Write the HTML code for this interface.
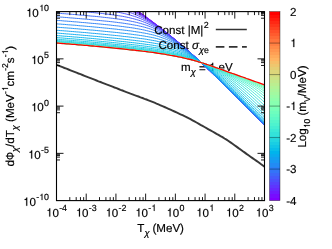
<!DOCTYPE html>
<html><head><meta charset="utf-8"><title>chart</title><style>html,body{margin:0;padding:0;background:#fff}body{width:332px;height:249px;overflow:hidden}</style></head><body>
<svg width="332" height="249" viewBox="0 0 332 249" style="display:block;font-family:'Liberation Sans',sans-serif" text-rendering="geometricPrecision">
<defs><clipPath id="ax"><rect x="56.5" y="11.6" width="208.0" height="189.0"/></clipPath><filter id="nf" filterUnits="userSpaceOnUse" x="0" y="0" width="332" height="249"><feOffset dx="0" dy="0"/></filter></defs>
<rect width="332" height="249" fill="#fff"/>
<g filter="url(#nf)" fill="#000" stroke="#000" stroke-width="0.18" style="white-space:pre">
<text x="181.00" y="71.00" font-size="11.6">m</text>
<text x="190.66" y="74.80" font-size="9.2" font-style="italic">χ</text>
<text x="198.91" y="72.00" font-size="11.6">=</text>
<path transform="translate(208.91 71.00) scale(0.00566 -0.00566)" d="M585 0V1040H290V1170Q480 1178 560 1270Q610 1340 625 1456H760V0Z" stroke-width="32"/>
<text x="218.58" y="71.00" font-size="11.6">eV</text>
</g>
<g clip-path="url(#ax)" fill="none" stroke-width="0.95">
<path d="M56.5 -16.8 L58.5 -16.6 L60.5 -16.4 L62.5 -16.2 L64.5 -16.0 L66.5 -15.8 L68.5 -15.6 L70.5 -15.4 L72.5 -15.1 L74.5 -14.9 L76.5 -14.6 L78.5 -14.3 L80.5 -14.0 L82.5 -13.7 L84.5 -13.3 L86.5 -13.0 L88.5 -12.5 L90.5 -12.1 L92.5 -11.6 L94.5 -11.1 L96.5 -10.6 L98.5 -10.0 L100.5 -9.3 L102.5 -8.6 L104.5 -7.9 L106.5 -7.1 L108.5 -6.2 L110.5 -5.4 L112.5 -4.4 L114.5 -3.4 L116.5 -2.4 L118.5 -1.3 L120.5 -0.2 L122.5 1.0 L124.5 2.2 L126.5 3.5 L128.5 4.7 L130.5 6.0 L132.5 7.4 L134.5 8.7 L136.5 10.1 L138.5 11.5 L140.5 12.9 L142.5 14.3 L144.5 15.8 L146.5 17.2 L148.5 18.7 L150.5 20.2 L152.5 21.7 L154.5 23.2 L156.5 24.7 L158.5 26.3 L160.5 27.8 L162.5 29.4 L164.5 31.0 L166.5 32.6 L168.5 34.2 L170.5 35.8 L172.5 37.4 L174.5 39.1 L176.5 40.7 L178.5 42.4 L180.5 44.1 L182.5 45.8 L184.5 47.5 L186.5 49.2 L188.5 51.0 L190.5 52.7 L192.5 54.5 L194.5 56.3 L196.5 58.2 L198.5 60.0 L200.5 61.9 L202.5 63.8 L204.5 65.7 L206.5 67.7 L208.5 69.6 L210.5 71.6 L212.5 73.6 L214.5 75.5 L216.5 77.5 L218.5 79.5 L220.5 81.5 L222.5 83.5 L224.5 85.5 L226.5 87.5 L228.5 89.4 L230.5 91.4 L232.5 93.4 L234.5 95.4 L236.5 97.4 L238.5 99.3 L240.5 101.3 L242.5 103.3 L244.5 105.3 L246.5 107.3 L248.5 109.2 L250.5 111.2 L252.5 113.2 L254.5 115.2 L256.5 117.2 L258.5 119.1 L260.5 121.1 L262.5 123.1 L264.5 125.1" stroke="#8000ff"/>
<path d="M56.5 -13.0 L58.5 -12.9 L60.5 -12.7 L62.5 -12.5 L64.5 -12.3 L66.5 -12.2 L68.5 -12.0 L70.5 -11.8 L72.5 -11.5 L74.5 -11.3 L76.5 -11.1 L78.5 -10.8 L80.5 -10.6 L82.5 -10.3 L84.5 -10.0 L86.5 -9.7 L88.5 -9.4 L90.5 -9.0 L92.5 -8.6 L94.5 -8.2 L96.5 -7.8 L98.5 -7.3 L100.5 -6.8 L102.5 -6.2 L104.5 -5.6 L106.5 -5.0 L108.5 -4.3 L110.5 -3.5 L112.5 -2.7 L114.5 -1.9 L116.5 -1.0 L118.5 0.0 L120.5 1.0 L122.5 2.1 L124.5 3.2 L126.5 4.3 L128.5 5.5 L130.5 6.7 L132.5 7.9 L134.5 9.2 L136.5 10.5 L138.5 11.9 L140.5 13.2 L142.5 14.6 L144.5 16.0 L146.5 17.4 L148.5 18.9 L150.5 20.3 L152.5 21.8 L154.5 23.3 L156.5 24.8 L158.5 26.3 L160.5 27.9 L162.5 29.5 L164.5 31.0 L166.5 32.6 L168.5 34.2 L170.5 35.8 L172.5 37.5 L174.5 39.1 L176.5 40.7 L178.5 42.4 L180.5 44.1 L182.5 45.8 L184.5 47.5 L186.5 49.2 L188.5 51.0 L190.5 52.7 L192.5 54.5 L194.5 56.3 L196.5 58.2 L198.5 60.0 L200.5 61.9 L202.5 63.8 L204.5 65.7 L206.5 67.7 L208.5 69.6 L210.5 71.6 L212.5 73.6 L214.5 75.5 L216.5 77.5 L218.5 79.5 L220.5 81.5 L222.5 83.5 L224.5 85.5 L226.5 87.5 L228.5 89.4 L230.5 91.4 L232.5 93.4 L234.5 95.4 L236.5 97.4 L238.5 99.3 L240.5 101.3 L242.5 103.3 L244.5 105.3 L246.5 107.3 L248.5 109.2 L250.5 111.2 L252.5 113.2 L254.5 115.2 L256.5 117.2 L258.5 119.1 L260.5 121.1 L262.5 123.1 L264.5 125.1" stroke="#770dff"/>
<path d="M56.5 -9.3 L58.5 -9.1 L60.5 -9.0 L62.5 -8.8 L64.5 -8.6 L66.5 -8.5 L68.5 -8.3 L70.5 -8.1 L72.5 -7.9 L74.5 -7.7 L76.5 -7.5 L78.5 -7.3 L80.5 -7.0 L82.5 -6.8 L84.5 -6.6 L86.5 -6.3 L88.5 -6.0 L90.5 -5.7 L92.5 -5.4 L94.5 -5.1 L96.5 -4.7 L98.5 -4.3 L100.5 -3.9 L102.5 -3.4 L104.5 -2.9 L106.5 -2.4 L108.5 -1.8 L110.5 -1.2 L112.5 -0.6 L114.5 0.1 L116.5 0.9 L118.5 1.7 L120.5 2.6 L122.5 3.5 L124.5 4.4 L126.5 5.4 L128.5 6.5 L130.5 7.6 L132.5 8.8 L134.5 9.9 L136.5 11.2 L138.5 12.4 L140.5 13.7 L142.5 15.0 L144.5 16.4 L146.5 17.8 L148.5 19.1 L150.5 20.6 L152.5 22.0 L154.5 23.5 L156.5 25.0 L158.5 26.5 L160.5 28.0 L162.5 29.5 L164.5 31.1 L166.5 32.7 L168.5 34.3 L170.5 35.9 L172.5 37.5 L174.5 39.1 L176.5 40.8 L178.5 42.4 L180.5 44.1 L182.5 45.8 L184.5 47.5 L186.5 49.2 L188.5 51.0 L190.5 52.7 L192.5 54.5 L194.5 56.4 L196.5 58.2 L198.5 60.0 L200.5 61.9 L202.5 63.8 L204.5 65.7 L206.5 67.7 L208.5 69.6 L210.5 71.6 L212.5 73.6 L214.5 75.5 L216.5 77.5 L218.5 79.5 L220.5 81.5 L222.5 83.5 L224.5 85.5 L226.5 87.5 L228.5 89.4 L230.5 91.4 L232.5 93.4 L234.5 95.4 L236.5 97.4 L238.5 99.3 L240.5 101.3 L242.5 103.3 L244.5 105.3 L246.5 107.3 L248.5 109.2 L250.5 111.2 L252.5 113.2 L254.5 115.2 L256.5 117.2 L258.5 119.1 L260.5 121.1 L262.5 123.1 L264.5 125.1" stroke="#6e1bff"/>
<path d="M56.5 -5.6 L58.5 -5.4 L60.5 -5.2 L62.5 -5.1 L64.5 -4.9 L66.5 -4.7 L68.5 -4.6 L70.5 -4.4 L72.5 -4.2 L74.5 -4.0 L76.5 -3.8 L78.5 -3.6 L80.5 -3.4 L82.5 -3.2 L84.5 -3.0 L86.5 -2.7 L88.5 -2.5 L90.5 -2.2 L92.5 -2.0 L94.5 -1.7 L96.5 -1.4 L98.5 -1.1 L100.5 -0.7 L102.5 -0.4 L104.5 0.0 L106.5 0.5 L108.5 0.9 L110.5 1.4 L112.5 2.0 L114.5 2.5 L116.5 3.2 L118.5 3.8 L120.5 4.5 L122.5 5.3 L124.5 6.1 L126.5 7.0 L128.5 7.9 L130.5 8.9 L132.5 9.9 L134.5 11.0 L136.5 12.1 L138.5 13.2 L140.5 14.4 L142.5 15.7 L144.5 16.9 L146.5 18.2 L148.5 19.6 L150.5 20.9 L152.5 22.3 L154.5 23.8 L156.5 25.2 L158.5 26.7 L160.5 28.2 L162.5 29.7 L164.5 31.2 L166.5 32.8 L168.5 34.4 L170.5 36.0 L172.5 37.6 L174.5 39.2 L176.5 40.8 L178.5 42.5 L180.5 44.1 L182.5 45.8 L184.5 47.5 L186.5 49.3 L188.5 51.0 L190.5 52.8 L192.5 54.5 L194.5 56.4 L196.5 58.2 L198.5 60.0 L200.5 61.9 L202.5 63.8 L204.5 65.7 L206.5 67.7 L208.5 69.6 L210.5 71.6 L212.5 73.5 L214.5 75.5 L216.5 77.5 L218.5 79.5 L220.5 81.5 L222.5 83.5 L224.5 85.5 L226.5 87.4 L228.5 89.4 L230.5 91.4 L232.5 93.4 L234.5 95.4 L236.5 97.4 L238.5 99.3 L240.5 101.3 L242.5 103.3 L244.5 105.3 L246.5 107.3 L248.5 109.2 L250.5 111.2 L252.5 113.2 L254.5 115.2 L256.5 117.1 L258.5 119.1 L260.5 121.1 L262.5 123.1 L264.5 125.0" stroke="#6628fe"/>
<path d="M56.5 -1.8 L58.5 -1.7 L60.5 -1.5 L62.5 -1.3 L64.5 -1.2 L66.5 -1.0 L68.5 -0.8 L70.5 -0.7 L72.5 -0.5 L74.5 -0.3 L76.5 -0.1 L78.5 0.1 L80.5 0.3 L82.5 0.5 L84.5 0.7 L86.5 0.9 L88.5 1.1 L90.5 1.3 L92.5 1.6 L94.5 1.8 L96.5 2.1 L98.5 2.3 L100.5 2.6 L102.5 2.9 L104.5 3.3 L106.5 3.6 L108.5 4.0 L110.5 4.4 L112.5 4.8 L114.5 5.3 L116.5 5.8 L118.5 6.3 L120.5 6.9 L122.5 7.6 L124.5 8.2 L126.5 9.0 L128.5 9.7 L130.5 10.6 L132.5 11.4 L134.5 12.4 L136.5 13.3 L138.5 14.4 L140.5 15.4 L142.5 16.6 L144.5 17.7 L146.5 18.9 L148.5 20.2 L150.5 21.5 L152.5 22.8 L154.5 24.2 L156.5 25.6 L158.5 27.0 L160.5 28.4 L162.5 29.9 L164.5 31.4 L166.5 33.0 L168.5 34.5 L170.5 36.1 L172.5 37.7 L174.5 39.3 L176.5 40.9 L178.5 42.5 L180.5 44.2 L182.5 45.9 L184.5 47.6 L186.5 49.3 L188.5 51.0 L190.5 52.8 L192.5 54.6 L194.5 56.4 L196.5 58.2 L198.5 60.1 L200.5 61.9 L202.5 63.8 L204.5 65.7 L206.5 67.7 L208.5 69.6 L210.5 71.6 L212.5 73.5 L214.5 75.5 L216.5 77.5 L218.5 79.5 L220.5 81.5 L222.5 83.5 L224.5 85.5 L226.5 87.4 L228.5 89.4 L230.5 91.4 L232.5 93.4 L234.5 95.4 L236.5 97.3 L238.5 99.3 L240.5 101.3 L242.5 103.3 L244.5 105.3 L246.5 107.2 L248.5 109.2 L250.5 111.2 L252.5 113.2 L254.5 115.2 L256.5 117.1 L258.5 119.1 L260.5 121.1 L262.5 123.1 L264.5 125.0" stroke="#5e35fe"/>
<path d="M56.5 1.9 L58.5 2.1 L60.5 2.2 L62.5 2.4 L64.5 2.6 L66.5 2.7 L68.5 2.9 L70.5 3.1 L72.5 3.2 L74.5 3.4 L76.5 3.6 L78.5 3.8 L80.5 4.0 L82.5 4.1 L84.5 4.3 L86.5 4.5 L88.5 4.7 L90.5 5.0 L92.5 5.2 L94.5 5.4 L96.5 5.6 L98.5 5.9 L100.5 6.1 L102.5 6.4 L104.5 6.7 L106.5 7.0 L108.5 7.3 L110.5 7.6 L112.5 8.0 L114.5 8.4 L116.5 8.8 L118.5 9.2 L120.5 9.7 L122.5 10.2 L124.5 10.8 L126.5 11.3 L128.5 12.0 L130.5 12.7 L132.5 13.4 L134.5 14.2 L136.5 15.0 L138.5 15.9 L140.5 16.8 L142.5 17.8 L144.5 18.9 L146.5 19.9 L148.5 21.1 L150.5 22.3 L152.5 23.5 L154.5 24.8 L156.5 26.1 L158.5 27.5 L160.5 28.8 L162.5 30.3 L164.5 31.7 L166.5 33.2 L168.5 34.7 L170.5 36.3 L172.5 37.8 L174.5 39.4 L176.5 41.0 L178.5 42.6 L180.5 44.3 L182.5 45.9 L184.5 47.6 L186.5 49.3 L188.5 51.1 L190.5 52.8 L192.5 54.6 L194.5 56.4 L196.5 58.2 L198.5 60.1 L200.5 61.9 L202.5 63.8 L204.5 65.7 L206.5 67.7 L208.5 69.6 L210.5 71.6 L212.5 73.5 L214.5 75.5 L216.5 77.5 L218.5 79.5 L220.5 81.5 L222.5 83.4 L224.5 85.4 L226.5 87.4 L228.5 89.4 L230.5 91.4 L232.5 93.4 L234.5 95.3 L236.5 97.3 L238.5 99.3 L240.5 101.3 L242.5 103.3 L244.5 105.2 L246.5 107.2 L248.5 109.2 L250.5 111.2 L252.5 113.2 L254.5 115.1 L256.5 117.1 L258.5 119.1 L260.5 121.1 L262.5 123.0 L264.5 125.0" stroke="#5542fd"/>
<path d="M56.5 5.7 L58.5 5.8 L60.5 6.0 L62.5 6.1 L64.5 6.3 L66.5 6.5 L68.5 6.6 L70.5 6.8 L72.5 7.0 L74.5 7.1 L76.5 7.3 L78.5 7.5 L80.5 7.7 L82.5 7.8 L84.5 8.0 L86.5 8.2 L88.5 8.4 L90.5 8.6 L92.5 8.8 L94.5 9.0 L96.5 9.2 L98.5 9.5 L100.5 9.7 L102.5 9.9 L104.5 10.2 L106.5 10.5 L108.5 10.7 L110.5 11.0 L112.5 11.3 L114.5 11.6 L116.5 12.0 L118.5 12.3 L120.5 12.7 L122.5 13.2 L124.5 13.6 L126.5 14.1 L128.5 14.6 L130.5 15.2 L132.5 15.8 L134.5 16.4 L136.5 17.1 L138.5 17.8 L140.5 18.6 L142.5 19.5 L144.5 20.4 L146.5 21.3 L148.5 22.3 L150.5 23.4 L152.5 24.5 L154.5 25.7 L156.5 26.9 L158.5 28.1 L160.5 29.4 L162.5 30.8 L164.5 32.2 L166.5 33.6 L168.5 35.1 L170.5 36.6 L172.5 38.1 L174.5 39.6 L176.5 41.2 L178.5 42.8 L180.5 44.4 L182.5 46.0 L184.5 47.7 L186.5 49.4 L188.5 51.1 L190.5 52.8 L192.5 54.6 L194.5 56.4 L196.5 58.2 L198.5 60.1 L200.5 61.9 L202.5 63.8 L204.5 65.7 L206.5 67.7 L208.5 69.6 L210.5 71.6 L212.5 73.5 L214.5 75.5 L216.5 77.5 L218.5 79.4 L220.5 81.4 L222.5 83.4 L224.5 85.4 L226.5 87.4 L228.5 89.4 L230.5 91.4 L232.5 93.3 L234.5 95.3 L236.5 97.3 L238.5 99.3 L240.5 101.3 L242.5 103.2 L244.5 105.2 L246.5 107.2 L248.5 109.2 L250.5 111.1 L252.5 113.1 L254.5 115.1 L256.5 117.1 L258.5 119.1 L260.5 121.0 L262.5 123.0 L264.5 125.0" stroke="#4c4ffc"/>
<path d="M56.5 9.4 L58.5 9.6 L60.5 9.7 L62.5 9.9 L64.5 10.0 L66.5 10.2 L68.5 10.3 L70.5 10.5 L72.5 10.7 L74.5 10.8 L76.5 11.0 L78.5 11.2 L80.5 11.4 L82.5 11.5 L84.5 11.7 L86.5 11.9 L88.5 12.1 L90.5 12.3 L92.5 12.5 L94.5 12.7 L96.5 12.9 L98.5 13.1 L100.5 13.3 L102.5 13.5 L104.5 13.8 L106.5 14.0 L108.5 14.3 L110.5 14.5 L112.5 14.8 L114.5 15.1 L116.5 15.4 L118.5 15.7 L120.5 16.0 L122.5 16.3 L124.5 16.7 L126.5 17.1 L128.5 17.5 L130.5 18.0 L132.5 18.5 L134.5 19.0 L136.5 19.6 L138.5 20.2 L140.5 20.8 L142.5 21.5 L144.5 22.3 L146.5 23.1 L148.5 24.0 L150.5 24.9 L152.5 25.8 L154.5 26.9 L156.5 28.0 L158.5 29.1 L160.5 30.3 L162.5 31.6 L164.5 32.8 L166.5 34.2 L168.5 35.6 L170.5 37.0 L172.5 38.4 L174.5 39.9 L176.5 41.5 L178.5 43.0 L180.5 44.6 L182.5 46.2 L184.5 47.8 L186.5 49.5 L188.5 51.2 L190.5 52.9 L192.5 54.7 L194.5 56.4 L196.5 58.2 L198.5 60.1 L200.5 61.9 L202.5 63.8 L204.5 65.7 L206.5 67.6 L208.5 69.6 L210.5 71.5 L212.5 73.5 L214.5 75.4 L216.5 77.4 L218.5 79.4 L220.5 81.4 L222.5 83.4 L224.5 85.4 L226.5 87.3 L228.5 89.3 L230.5 91.3 L232.5 93.3 L234.5 95.3 L236.5 97.2 L238.5 99.2 L240.5 101.2 L242.5 103.2 L244.5 105.2 L246.5 107.1 L248.5 109.1 L250.5 111.1 L252.5 113.1 L254.5 115.1 L256.5 117.0 L258.5 119.0 L260.5 121.0 L262.5 123.0 L264.5 124.9" stroke="#445bfb"/>
<path d="M56.5 13.1 L58.5 13.3 L60.5 13.4 L62.5 13.6 L64.5 13.7 L66.5 13.9 L68.5 14.0 L70.5 14.2 L72.5 14.4 L74.5 14.5 L76.5 14.7 L78.5 14.9 L80.5 15.1 L82.5 15.2 L84.5 15.4 L86.5 15.6 L88.5 15.8 L90.5 16.0 L92.5 16.2 L94.5 16.3 L96.5 16.5 L98.5 16.7 L100.5 16.9 L102.5 17.2 L104.5 17.4 L106.5 17.6 L108.5 17.8 L110.5 18.1 L112.5 18.3 L114.5 18.6 L116.5 18.8 L118.5 19.1 L120.5 19.4 L122.5 19.7 L124.5 20.0 L126.5 20.3 L128.5 20.7 L130.5 21.1 L132.5 21.5 L134.5 21.9 L136.5 22.4 L138.5 22.9 L140.5 23.4 L142.5 24.0 L144.5 24.6 L146.5 25.3 L148.5 26.0 L150.5 26.8 L152.5 27.6 L154.5 28.5 L156.5 29.4 L158.5 30.4 L160.5 31.5 L162.5 32.6 L164.5 33.8 L166.5 35.0 L168.5 36.3 L170.5 37.6 L172.5 39.0 L174.5 40.4 L176.5 41.9 L178.5 43.3 L180.5 44.9 L182.5 46.4 L184.5 48.0 L186.5 49.7 L188.5 51.3 L190.5 53.0 L192.5 54.7 L194.5 56.5 L196.5 58.3 L198.5 60.1 L200.5 61.9 L202.5 63.8 L204.5 65.7 L206.5 67.6 L208.5 69.5 L210.5 71.5 L212.5 73.4 L214.5 75.4 L216.5 77.4 L218.5 79.3 L220.5 81.3 L222.5 83.3 L224.5 85.3 L226.5 87.3 L228.5 89.3 L230.5 91.2 L232.5 93.2 L234.5 95.2 L236.5 97.2 L238.5 99.1 L240.5 101.1 L242.5 103.1 L244.5 105.1 L246.5 107.1 L248.5 109.0 L250.5 111.0 L252.5 113.0 L254.5 115.0 L256.5 116.9 L258.5 118.9 L260.5 120.9 L262.5 122.9 L264.5 124.9" stroke="#3c68f9"/>
<path d="M56.5 16.8 L58.5 16.9 L60.5 17.1 L62.5 17.2 L64.5 17.4 L66.5 17.5 L68.5 17.7 L70.5 17.9 L72.5 18.0 L74.5 18.2 L76.5 18.4 L78.5 18.5 L80.5 18.7 L82.5 18.9 L84.5 19.0 L86.5 19.2 L88.5 19.4 L90.5 19.6 L92.5 19.8 L94.5 20.0 L96.5 20.2 L98.5 20.4 L100.5 20.6 L102.5 20.8 L104.5 21.0 L106.5 21.2 L108.5 21.4 L110.5 21.6 L112.5 21.8 L114.5 22.1 L116.5 22.3 L118.5 22.6 L120.5 22.8 L122.5 23.1 L124.5 23.4 L126.5 23.7 L128.5 24.0 L130.5 24.3 L132.5 24.7 L134.5 25.0 L136.5 25.4 L138.5 25.8 L140.5 26.3 L142.5 26.7 L144.5 27.2 L146.5 27.8 L148.5 28.4 L150.5 29.0 L152.5 29.7 L154.5 30.5 L156.5 31.3 L158.5 32.1 L160.5 33.0 L162.5 34.0 L164.5 35.1 L166.5 36.1 L168.5 37.3 L170.5 38.5 L172.5 39.8 L174.5 41.1 L176.5 42.4 L178.5 43.8 L180.5 45.3 L182.5 46.8 L184.5 48.3 L186.5 49.9 L188.5 51.5 L190.5 53.2 L192.5 54.8 L194.5 56.6 L196.5 58.3 L198.5 60.1 L200.5 61.9 L202.5 63.8 L204.5 65.7 L206.5 67.6 L208.5 69.5 L210.5 71.4 L212.5 73.4 L214.5 75.3 L216.5 77.3 L218.5 79.3 L220.5 81.2 L222.5 83.2 L224.5 85.2 L226.5 87.2 L228.5 89.2 L230.5 91.1 L232.5 93.1 L234.5 95.1 L236.5 97.1 L238.5 99.0 L240.5 101.0 L242.5 103.0 L244.5 105.0 L246.5 106.9 L248.5 108.9 L250.5 110.9 L252.5 112.9 L254.5 114.8 L256.5 116.8 L258.5 118.8 L260.5 120.8 L262.5 122.8 L264.5 124.7" stroke="#3374f8"/>
<path d="M56.5 20.3 L58.5 20.5 L60.5 20.6 L62.5 20.8 L64.5 21.0 L66.5 21.1 L68.5 21.3 L70.5 21.4 L72.5 21.6 L74.5 21.8 L76.5 21.9 L78.5 22.1 L80.5 22.3 L82.5 22.5 L84.5 22.6 L86.5 22.8 L88.5 23.0 L90.5 23.2 L92.5 23.4 L94.5 23.5 L96.5 23.7 L98.5 23.9 L100.5 24.1 L102.5 24.3 L104.5 24.5 L106.5 24.7 L108.5 24.9 L110.5 25.1 L112.5 25.4 L114.5 25.6 L116.5 25.8 L118.5 26.0 L120.5 26.3 L122.5 26.5 L124.5 26.8 L126.5 27.1 L128.5 27.3 L130.5 27.6 L132.5 27.9 L134.5 28.2 L136.5 28.6 L138.5 28.9 L140.5 29.3 L142.5 29.7 L144.5 30.1 L146.5 30.6 L148.5 31.1 L150.5 31.6 L152.5 32.2 L154.5 32.8 L156.5 33.4 L158.5 34.2 L160.5 34.9 L162.5 35.8 L164.5 36.7 L166.5 37.6 L168.5 38.6 L170.5 39.7 L172.5 40.8 L174.5 42.0 L176.5 43.3 L178.5 44.5 L180.5 45.9 L182.5 47.3 L184.5 48.7 L186.5 50.2 L188.5 51.8 L190.5 53.4 L192.5 55.0 L194.5 56.7 L196.5 58.4 L198.5 60.2 L200.5 61.9 L202.5 63.8 L204.5 65.6 L206.5 67.5 L208.5 69.4 L210.5 71.3 L212.5 73.3 L214.5 75.2 L216.5 77.2 L218.5 79.1 L220.5 81.1 L222.5 83.1 L224.5 85.0 L226.5 87.0 L228.5 89.0 L230.5 91.0 L232.5 92.9 L234.5 94.9 L236.5 96.9 L238.5 98.8 L240.5 100.8 L242.5 102.8 L244.5 104.8 L246.5 106.8 L248.5 108.7 L250.5 110.7 L252.5 112.7 L254.5 114.7 L256.5 116.6 L258.5 118.6 L260.5 120.6 L262.5 122.6 L264.5 124.5" stroke="#2b7ff6"/>
<path d="M56.5 23.8 L58.5 24.0 L60.5 24.1 L62.5 24.3 L64.5 24.4 L66.5 24.6 L68.5 24.8 L70.5 24.9 L72.5 25.1 L74.5 25.2 L76.5 25.4 L78.5 25.6 L80.5 25.8 L82.5 25.9 L84.5 26.1 L86.5 26.3 L88.5 26.5 L90.5 26.6 L92.5 26.8 L94.5 27.0 L96.5 27.2 L98.5 27.4 L100.5 27.6 L102.5 27.8 L104.5 28.0 L106.5 28.2 L108.5 28.4 L110.5 28.6 L112.5 28.8 L114.5 29.0 L116.5 29.2 L118.5 29.5 L120.5 29.7 L122.5 29.9 L124.5 30.2 L126.5 30.4 L128.5 30.7 L130.5 30.9 L132.5 31.2 L134.5 31.5 L136.5 31.8 L138.5 32.1 L140.5 32.4 L142.5 32.8 L144.5 33.1 L146.5 33.5 L148.5 33.9 L150.5 34.4 L152.5 34.8 L154.5 35.3 L156.5 35.9 L158.5 36.5 L160.5 37.2 L162.5 37.9 L164.5 38.6 L166.5 39.4 L168.5 40.3 L170.5 41.2 L172.5 42.2 L174.5 43.2 L176.5 44.3 L178.5 45.5 L180.5 46.7 L182.5 48.0 L184.5 49.3 L186.5 50.7 L188.5 52.2 L190.5 53.7 L192.5 55.3 L194.5 56.9 L196.5 58.5 L198.5 60.2 L200.5 62.0 L202.5 63.7 L204.5 65.6 L206.5 67.4 L208.5 69.3 L210.5 71.2 L212.5 73.1 L214.5 75.0 L216.5 76.9 L218.5 78.9 L220.5 80.9 L222.5 82.8 L224.5 84.8 L226.5 86.8 L228.5 88.7 L230.5 90.7 L232.5 92.7 L234.5 94.6 L236.5 96.6 L238.5 98.6 L240.5 100.5 L242.5 102.5 L244.5 104.5 L246.5 106.5 L248.5 108.4 L250.5 110.4 L252.5 112.4 L254.5 114.4 L256.5 116.3 L258.5 118.3 L260.5 120.3 L262.5 122.3 L264.5 124.2" stroke="#228bf4"/>
<path d="M56.5 27.2 L58.5 27.3 L60.5 27.5 L62.5 27.6 L64.5 27.8 L66.5 27.9 L68.5 28.1 L70.5 28.2 L72.5 28.4 L74.5 28.6 L76.5 28.7 L78.5 28.9 L80.5 29.1 L82.5 29.3 L84.5 29.4 L86.5 29.6 L88.5 29.8 L90.5 30.0 L92.5 30.1 L94.5 30.3 L96.5 30.5 L98.5 30.7 L100.5 30.9 L102.5 31.1 L104.5 31.3 L106.5 31.5 L108.5 31.7 L110.5 31.9 L112.5 32.1 L114.5 32.3 L116.5 32.5 L118.5 32.7 L120.5 33.0 L122.5 33.2 L124.5 33.4 L126.5 33.6 L128.5 33.9 L130.5 34.1 L132.5 34.4 L134.5 34.7 L136.5 34.9 L138.5 35.2 L140.5 35.5 L142.5 35.8 L144.5 36.1 L146.5 36.5 L148.5 36.8 L150.5 37.2 L152.5 37.6 L154.5 38.0 L156.5 38.5 L158.5 39.0 L160.5 39.6 L162.5 40.2 L164.5 40.8 L166.5 41.5 L168.5 42.2 L170.5 43.0 L172.5 43.8 L174.5 44.7 L176.5 45.7 L178.5 46.7 L180.5 47.8 L182.5 48.9 L184.5 50.1 L186.5 51.4 L188.5 52.7 L190.5 54.1 L192.5 55.6 L194.5 57.1 L196.5 58.7 L198.5 60.3 L200.5 62.0 L202.5 63.7 L204.5 65.5 L206.5 67.3 L208.5 69.1 L210.5 71.0 L212.5 72.8 L214.5 74.7 L216.5 76.6 L218.5 78.6 L220.5 80.5 L222.5 82.5 L224.5 84.4 L226.5 86.4 L228.5 88.3 L230.5 90.3 L232.5 92.2 L234.5 94.2 L236.5 96.2 L238.5 98.1 L240.5 100.1 L242.5 102.1 L244.5 104.1 L246.5 106.0 L248.5 108.0 L250.5 110.0 L252.5 111.9 L254.5 113.9 L256.5 115.9 L258.5 117.9 L260.5 119.8 L262.5 121.8 L264.5 123.8" stroke="#1996f3"/>
<path d="M56.5 30.3 L58.5 30.4 L60.5 30.6 L62.5 30.7 L64.5 30.9 L66.5 31.0 L68.5 31.2 L70.5 31.4 L72.5 31.5 L74.5 31.7 L76.5 31.9 L78.5 32.0 L80.5 32.2 L82.5 32.4 L84.5 32.5 L86.5 32.7 L88.5 32.9 L90.5 33.1 L92.5 33.3 L94.5 33.4 L96.5 33.6 L98.5 33.8 L100.5 34.0 L102.5 34.2 L104.5 34.4 L106.5 34.6 L108.5 34.8 L110.5 35.0 L112.5 35.2 L114.5 35.4 L116.5 35.6 L118.5 35.8 L120.5 36.0 L122.5 36.3 L124.5 36.5 L126.5 36.7 L128.5 36.9 L130.5 37.2 L132.5 37.4 L134.5 37.7 L136.5 37.9 L138.5 38.2 L140.5 38.5 L142.5 38.7 L144.5 39.0 L146.5 39.3 L148.5 39.7 L150.5 40.0 L152.5 40.4 L154.5 40.7 L156.5 41.1 L158.5 41.6 L160.5 42.1 L162.5 42.6 L164.5 43.1 L166.5 43.7 L168.5 44.3 L170.5 45.0 L172.5 45.7 L174.5 46.4 L176.5 47.3 L178.5 48.1 L180.5 49.1 L182.5 50.1 L184.5 51.1 L186.5 52.3 L188.5 53.5 L190.5 54.7 L192.5 56.0 L194.5 57.4 L196.5 58.9 L198.5 60.4 L200.5 62.0 L202.5 63.6 L204.5 65.3 L206.5 67.1 L208.5 68.8 L210.5 70.6 L212.5 72.5 L214.5 74.3 L216.5 76.2 L218.5 78.1 L220.5 80.0 L222.5 81.9 L224.5 83.9 L226.5 85.8 L228.5 87.8 L230.5 89.7 L232.5 91.7 L234.5 93.6 L236.5 95.6 L238.5 97.5 L240.5 99.5 L242.5 101.4 L244.5 103.4 L246.5 105.4 L248.5 107.4 L250.5 109.3 L252.5 111.3 L254.5 113.3 L256.5 115.2 L258.5 117.2 L260.5 119.2 L262.5 121.2 L264.5 123.1" stroke="#11a0f0"/>
<path d="M56.5 33.1 L58.5 33.2 L60.5 33.4 L62.5 33.5 L64.5 33.7 L66.5 33.9 L68.5 34.0 L70.5 34.2 L72.5 34.3 L74.5 34.5 L76.5 34.7 L78.5 34.8 L80.5 35.0 L82.5 35.2 L84.5 35.4 L86.5 35.5 L88.5 35.7 L90.5 35.9 L92.5 36.1 L94.5 36.3 L96.5 36.4 L98.5 36.6 L100.5 36.8 L102.5 37.0 L104.5 37.2 L106.5 37.4 L108.5 37.6 L110.5 37.8 L112.5 38.0 L114.5 38.2 L116.5 38.4 L118.5 38.6 L120.5 38.8 L122.5 39.0 L124.5 39.3 L126.5 39.5 L128.5 39.7 L130.5 40.0 L132.5 40.2 L134.5 40.4 L136.5 40.7 L138.5 40.9 L140.5 41.2 L142.5 41.4 L144.5 41.7 L146.5 42.0 L148.5 42.3 L150.5 42.6 L152.5 42.9 L154.5 43.3 L156.5 43.6 L158.5 44.0 L160.5 44.4 L162.5 44.9 L164.5 45.4 L166.5 45.9 L168.5 46.4 L170.5 47.0 L172.5 47.6 L174.5 48.2 L176.5 48.9 L178.5 49.7 L180.5 50.5 L182.5 51.3 L184.5 52.3 L186.5 53.2 L188.5 54.3 L190.5 55.4 L192.5 56.6 L194.5 57.9 L196.5 59.2 L198.5 60.6 L200.5 62.1 L202.5 63.6 L204.5 65.2 L206.5 66.8 L208.5 68.5 L210.5 70.2 L212.5 72.0 L214.5 73.8 L216.5 75.6 L218.5 77.5 L220.5 79.3 L222.5 81.2 L224.5 83.1 L226.5 85.0 L228.5 86.9 L230.5 88.9 L232.5 90.8 L234.5 92.7 L236.5 94.7 L238.5 96.6 L240.5 98.6 L242.5 100.5 L244.5 102.5 L246.5 104.5 L248.5 106.4 L250.5 108.4 L252.5 110.4 L254.5 112.3 L256.5 114.3 L258.5 116.3 L260.5 118.2 L262.5 120.2 L264.5 122.2" stroke="#08abee"/>
<path d="M56.5 35.5 L58.5 35.7 L60.5 35.8 L62.5 36.0 L64.5 36.2 L66.5 36.3 L68.5 36.5 L70.5 36.6 L72.5 36.8 L74.5 37.0 L76.5 37.1 L78.5 37.3 L80.5 37.5 L82.5 37.6 L84.5 37.8 L86.5 38.0 L88.5 38.2 L90.5 38.3 L92.5 38.5 L94.5 38.7 L96.5 38.9 L98.5 39.1 L100.5 39.3 L102.5 39.5 L104.5 39.7 L106.5 39.8 L108.5 40.0 L110.5 40.2 L112.5 40.4 L114.5 40.6 L116.5 40.9 L118.5 41.1 L120.5 41.3 L122.5 41.5 L124.5 41.7 L126.5 41.9 L128.5 42.2 L130.5 42.4 L132.5 42.6 L134.5 42.8 L136.5 43.1 L138.5 43.3 L140.5 43.6 L142.5 43.8 L144.5 44.1 L146.5 44.4 L148.5 44.6 L150.5 44.9 L152.5 45.2 L154.5 45.6 L156.5 45.9 L158.5 46.2 L160.5 46.6 L162.5 47.0 L164.5 47.4 L166.5 47.9 L168.5 48.4 L170.5 48.9 L172.5 49.4 L174.5 50.0 L176.5 50.6 L178.5 51.2 L180.5 51.9 L182.5 52.6 L184.5 53.4 L186.5 54.3 L188.5 55.2 L190.5 56.2 L192.5 57.2 L194.5 58.3 L196.5 59.5 L198.5 60.8 L200.5 62.1 L202.5 63.5 L204.5 64.9 L206.5 66.5 L208.5 68.1 L210.5 69.7 L212.5 71.4 L214.5 73.1 L216.5 74.8 L218.5 76.6 L220.5 78.4 L222.5 80.3 L224.5 82.1 L226.5 84.0 L228.5 85.9 L230.5 87.7 L232.5 89.7 L234.5 91.6 L236.5 93.5 L238.5 95.4 L240.5 97.4 L242.5 99.3 L244.5 101.2 L246.5 103.2 L248.5 105.2 L250.5 107.1 L252.5 109.1 L254.5 111.0 L256.5 113.0 L258.5 115.0 L260.5 116.9 L262.5 118.9 L264.5 120.9" stroke="#00b4ec"/>
<path d="M56.5 37.6 L58.5 37.7 L60.5 37.9 L62.5 38.0 L64.5 38.2 L66.5 38.4 L68.5 38.5 L70.5 38.7 L72.5 38.8 L74.5 39.0 L76.5 39.2 L78.5 39.3 L80.5 39.5 L82.5 39.7 L84.5 39.9 L86.5 40.0 L88.5 40.2 L90.5 40.4 L92.5 40.6 L94.5 40.8 L96.5 40.9 L98.5 41.1 L100.5 41.3 L102.5 41.5 L104.5 41.7 L106.5 41.9 L108.5 42.1 L110.5 42.3 L112.5 42.5 L114.5 42.7 L116.5 42.9 L118.5 43.1 L120.5 43.3 L122.5 43.5 L124.5 43.7 L126.5 44.0 L128.5 44.2 L130.5 44.4 L132.5 44.6 L134.5 44.9 L136.5 45.1 L138.5 45.3 L140.5 45.6 L142.5 45.8 L144.5 46.1 L146.5 46.3 L148.5 46.6 L150.5 46.9 L152.5 47.2 L154.5 47.5 L156.5 47.8 L158.5 48.1 L160.5 48.5 L162.5 48.9 L164.5 49.2 L166.5 49.7 L168.5 50.1 L170.5 50.5 L172.5 51.0 L174.5 51.5 L176.5 52.0 L178.5 52.6 L180.5 53.2 L182.5 53.9 L184.5 54.5 L186.5 55.3 L188.5 56.1 L190.5 56.9 L192.5 57.8 L194.5 58.8 L196.5 59.9 L198.5 61.0 L200.5 62.1 L202.5 63.4 L204.5 64.7 L206.5 66.1 L208.5 67.6 L210.5 69.1 L212.5 70.6 L214.5 72.2 L216.5 73.9 L218.5 75.6 L220.5 77.3 L222.5 79.0 L224.5 80.8 L226.5 82.6 L228.5 84.5 L230.5 86.3 L232.5 88.2 L234.5 90.1 L236.5 91.9 L238.5 93.9 L240.5 95.8 L242.5 97.7 L244.5 99.6 L246.5 101.6 L248.5 103.5 L250.5 105.4 L252.5 107.4 L254.5 109.4 L256.5 111.3 L258.5 113.3 L260.5 115.2 L262.5 117.2 L264.5 119.2" stroke="#08bee9"/>
<path d="M56.5 39.2 L58.5 39.3 L60.5 39.5 L62.5 39.7 L64.5 39.8 L66.5 40.0 L68.5 40.1 L70.5 40.3 L72.5 40.4 L74.5 40.6 L76.5 40.8 L78.5 40.9 L80.5 41.1 L82.5 41.3 L84.5 41.5 L86.5 41.6 L88.5 41.8 L90.5 42.0 L92.5 42.2 L94.5 42.4 L96.5 42.5 L98.5 42.7 L100.5 42.9 L102.5 43.1 L104.5 43.3 L106.5 43.5 L108.5 43.7 L110.5 43.9 L112.5 44.1 L114.5 44.3 L116.5 44.5 L118.5 44.7 L120.5 44.9 L122.5 45.1 L124.5 45.3 L126.5 45.6 L128.5 45.8 L130.5 46.0 L132.5 46.2 L134.5 46.5 L136.5 46.7 L138.5 46.9 L140.5 47.2 L142.5 47.4 L144.5 47.6 L146.5 47.9 L148.5 48.2 L150.5 48.4 L152.5 48.7 L154.5 49.0 L156.5 49.3 L158.5 49.6 L160.5 50.0 L162.5 50.3 L164.5 50.7 L166.5 51.1 L168.5 51.5 L170.5 51.9 L172.5 52.3 L174.5 52.8 L176.5 53.3 L178.5 53.8 L180.5 54.3 L182.5 54.9 L184.5 55.5 L186.5 56.2 L188.5 56.9 L190.5 57.6 L192.5 58.4 L194.5 59.3 L196.5 60.2 L198.5 61.2 L200.5 62.2 L202.5 63.3 L204.5 64.5 L206.5 65.7 L208.5 67.0 L210.5 68.4 L212.5 69.8 L214.5 71.3 L216.5 72.8 L218.5 74.4 L220.5 76.0 L222.5 77.7 L224.5 79.4 L226.5 81.1 L228.5 82.8 L230.5 84.6 L232.5 86.4 L234.5 88.2 L236.5 90.1 L238.5 91.9 L240.5 93.8 L242.5 95.7 L244.5 97.6 L246.5 99.5 L248.5 101.5 L250.5 103.4 L252.5 105.3 L254.5 107.3 L256.5 109.2 L258.5 111.2 L260.5 113.1 L262.5 115.1 L264.5 117.0" stroke="#11c6e6"/>
<path d="M56.5 40.4 L58.5 40.6 L60.5 40.7 L62.5 40.9 L64.5 41.0 L66.5 41.2 L68.5 41.3 L70.5 41.5 L72.5 41.7 L74.5 41.8 L76.5 42.0 L78.5 42.2 L80.5 42.3 L82.5 42.5 L84.5 42.7 L86.5 42.8 L88.5 43.0 L90.5 43.2 L92.5 43.4 L94.5 43.6 L96.5 43.8 L98.5 43.9 L100.5 44.1 L102.5 44.3 L104.5 44.5 L106.5 44.7 L108.5 44.9 L110.5 45.1 L112.5 45.3 L114.5 45.5 L116.5 45.7 L118.5 45.9 L120.5 46.1 L122.5 46.3 L124.5 46.5 L126.5 46.8 L128.5 47.0 L130.5 47.2 L132.5 47.4 L134.5 47.7 L136.5 47.9 L138.5 48.1 L140.5 48.4 L142.5 48.6 L144.5 48.8 L146.5 49.1 L148.5 49.3 L150.5 49.6 L152.5 49.9 L154.5 50.2 L156.5 50.5 L158.5 50.8 L160.5 51.1 L162.5 51.5 L164.5 51.8 L166.5 52.2 L168.5 52.6 L170.5 53.0 L172.5 53.4 L174.5 53.8 L176.5 54.2 L178.5 54.7 L180.5 55.2 L182.5 55.7 L184.5 56.3 L186.5 56.9 L188.5 57.5 L190.5 58.2 L192.5 58.9 L194.5 59.6 L196.5 60.5 L198.5 61.3 L200.5 62.2 L202.5 63.2 L204.5 64.3 L206.5 65.4 L208.5 66.5 L210.5 67.7 L212.5 69.0 L214.5 70.3 L216.5 71.7 L218.5 73.2 L220.5 74.7 L222.5 76.2 L224.5 77.8 L226.5 79.4 L228.5 81.0 L230.5 82.7 L232.5 84.4 L234.5 86.2 L236.5 88.0 L238.5 89.8 L240.5 91.6 L242.5 93.5 L244.5 95.3 L246.5 97.2 L248.5 99.1 L250.5 101.0 L252.5 102.9 L254.5 104.8 L256.5 106.7 L258.5 108.7 L260.5 110.6 L262.5 112.6 L264.5 114.5" stroke="#19cee3"/>
<path d="M56.5 41.3 L58.5 41.4 L60.5 41.6 L62.5 41.7 L64.5 41.9 L66.5 42.0 L68.5 42.2 L70.5 42.4 L72.5 42.5 L74.5 42.7 L76.5 42.9 L78.5 43.0 L80.5 43.2 L82.5 43.4 L84.5 43.5 L86.5 43.7 L88.5 43.9 L90.5 44.1 L92.5 44.3 L94.5 44.4 L96.5 44.6 L98.5 44.8 L100.5 45.0 L102.5 45.2 L104.5 45.4 L106.5 45.6 L108.5 45.8 L110.5 46.0 L112.5 46.2 L114.5 46.4 L116.5 46.6 L118.5 46.8 L120.5 47.0 L122.5 47.2 L124.5 47.4 L126.5 47.6 L128.5 47.8 L130.5 48.1 L132.5 48.3 L134.5 48.5 L136.5 48.7 L138.5 49.0 L140.5 49.2 L142.5 49.4 L144.5 49.7 L146.5 49.9 L148.5 50.2 L150.5 50.5 L152.5 50.7 L154.5 51.0 L156.5 51.3 L158.5 51.6 L160.5 51.9 L162.5 52.3 L164.5 52.6 L166.5 53.0 L168.5 53.3 L170.5 53.7 L172.5 54.1 L174.5 54.5 L176.5 54.9 L178.5 55.4 L180.5 55.9 L182.5 56.4 L184.5 56.9 L186.5 57.4 L188.5 58.0 L190.5 58.6 L192.5 59.2 L194.5 59.9 L196.5 60.7 L198.5 61.5 L200.5 62.3 L202.5 63.1 L204.5 64.1 L206.5 65.1 L208.5 66.1 L210.5 67.2 L212.5 68.3 L214.5 69.5 L216.5 70.7 L218.5 72.0 L220.5 73.4 L222.5 74.8 L224.5 76.2 L226.5 77.7 L228.5 79.2 L230.5 80.8 L232.5 82.4 L234.5 84.1 L236.5 85.7 L238.5 87.5 L240.5 89.2 L242.5 91.0 L244.5 92.8 L246.5 94.6 L248.5 96.5 L250.5 98.3 L252.5 100.2 L254.5 102.1 L256.5 104.0 L258.5 105.9 L260.5 107.8 L262.5 109.8 L264.5 111.7" stroke="#22d6e0"/>
<path d="M56.5 41.9 L58.5 42.0 L60.5 42.2 L62.5 42.3 L64.5 42.5 L66.5 42.6 L68.5 42.8 L70.5 43.0 L72.5 43.1 L74.5 43.3 L76.5 43.4 L78.5 43.6 L80.5 43.8 L82.5 44.0 L84.5 44.1 L86.5 44.3 L88.5 44.5 L90.5 44.7 L92.5 44.8 L94.5 45.0 L96.5 45.2 L98.5 45.4 L100.5 45.6 L102.5 45.8 L104.5 46.0 L106.5 46.2 L108.5 46.4 L110.5 46.6 L112.5 46.8 L114.5 47.0 L116.5 47.2 L118.5 47.4 L120.5 47.6 L122.5 47.8 L124.5 48.0 L126.5 48.2 L128.5 48.4 L130.5 48.7 L132.5 48.9 L134.5 49.1 L136.5 49.3 L138.5 49.6 L140.5 49.8 L142.5 50.0 L144.5 50.3 L146.5 50.5 L148.5 50.8 L150.5 51.0 L152.5 51.3 L154.5 51.6 L156.5 51.9 L158.5 52.2 L160.5 52.5 L162.5 52.8 L164.5 53.2 L166.5 53.5 L168.5 53.9 L170.5 54.2 L172.5 54.6 L174.5 55.0 L176.5 55.4 L178.5 55.9 L180.5 56.3 L182.5 56.8 L184.5 57.3 L186.5 57.8 L188.5 58.3 L190.5 58.9 L192.5 59.5 L194.5 60.2 L196.5 60.8 L198.5 61.6 L200.5 62.3 L202.5 63.1 L204.5 63.9 L206.5 64.8 L208.5 65.8 L210.5 66.7 L212.5 67.7 L214.5 68.8 L216.5 69.9 L218.5 71.0 L220.5 72.2 L222.5 73.5 L224.5 74.8 L226.5 76.1 L228.5 77.5 L230.5 79.0 L232.5 80.4 L234.5 82.0 L236.5 83.5 L238.5 85.2 L240.5 86.8 L242.5 88.5 L244.5 90.2 L246.5 92.0 L248.5 93.7 L250.5 95.5 L252.5 97.4 L254.5 99.2 L256.5 101.1 L258.5 103.0 L260.5 104.8 L262.5 106.7 L264.5 108.7" stroke="#2adddd"/>
<path d="M56.5 42.3 L58.5 42.4 L60.5 42.6 L62.5 42.7 L64.5 42.9 L66.5 43.0 L68.5 43.2 L70.5 43.4 L72.5 43.5 L74.5 43.7 L76.5 43.8 L78.5 44.0 L80.5 44.2 L82.5 44.4 L84.5 44.5 L86.5 44.7 L88.5 44.9 L90.5 45.1 L92.5 45.2 L94.5 45.4 L96.5 45.6 L98.5 45.8 L100.5 46.0 L102.5 46.2 L104.5 46.4 L106.5 46.6 L108.5 46.8 L110.5 47.0 L112.5 47.2 L114.5 47.4 L116.5 47.6 L118.5 47.8 L120.5 48.0 L122.5 48.2 L124.5 48.4 L126.5 48.6 L128.5 48.8 L130.5 49.1 L132.5 49.3 L134.5 49.5 L136.5 49.7 L138.5 50.0 L140.5 50.2 L142.5 50.4 L144.5 50.7 L146.5 50.9 L148.5 51.2 L150.5 51.4 L152.5 51.7 L154.5 52.0 L156.5 52.3 L158.5 52.6 L160.5 52.9 L162.5 53.2 L164.5 53.5 L166.5 53.9 L168.5 54.2 L170.5 54.6 L172.5 55.0 L174.5 55.4 L176.5 55.8 L178.5 56.2 L180.5 56.6 L182.5 57.1 L184.5 57.6 L186.5 58.1 L188.5 58.6 L190.5 59.1 L192.5 59.7 L194.5 60.3 L196.5 60.9 L198.5 61.6 L200.5 62.3 L202.5 63.1 L204.5 63.8 L206.5 64.6 L208.5 65.5 L210.5 66.4 L212.5 67.3 L214.5 68.2 L216.5 69.2 L218.5 70.3 L220.5 71.3 L222.5 72.5 L224.5 73.6 L226.5 74.8 L228.5 76.1 L230.5 77.3 L232.5 78.7 L234.5 80.1 L236.5 81.5 L238.5 83.0 L240.5 84.5 L242.5 86.1 L244.5 87.7 L246.5 89.4 L248.5 91.0 L250.5 92.8 L252.5 94.5 L254.5 96.3 L256.5 98.1 L258.5 99.9 L260.5 101.8 L262.5 103.6 L264.5 105.5" stroke="#33e3d9"/>
<path d="M56.5 42.5 L58.5 42.7 L60.5 42.8 L62.5 43.0 L64.5 43.1 L66.5 43.3 L68.5 43.5 L70.5 43.6 L72.5 43.8 L74.5 43.9 L76.5 44.1 L78.5 44.3 L80.5 44.5 L82.5 44.6 L84.5 44.8 L86.5 45.0 L88.5 45.2 L90.5 45.3 L92.5 45.5 L94.5 45.7 L96.5 45.9 L98.5 46.1 L100.5 46.2 L102.5 46.4 L104.5 46.6 L106.5 46.8 L108.5 47.0 L110.5 47.2 L112.5 47.4 L114.5 47.6 L116.5 47.8 L118.5 48.0 L120.5 48.2 L122.5 48.4 L124.5 48.7 L126.5 48.9 L128.5 49.1 L130.5 49.3 L132.5 49.5 L134.5 49.8 L136.5 50.0 L138.5 50.2 L140.5 50.5 L142.5 50.7 L144.5 50.9 L146.5 51.2 L148.5 51.4 L150.5 51.7 L152.5 52.0 L154.5 52.2 L156.5 52.5 L158.5 52.8 L160.5 53.1 L162.5 53.4 L164.5 53.8 L166.5 54.1 L168.5 54.5 L170.5 54.8 L172.5 55.2 L174.5 55.6 L176.5 56.0 L178.5 56.4 L180.5 56.8 L182.5 57.3 L184.5 57.8 L186.5 58.2 L188.5 58.7 L190.5 59.3 L192.5 59.8 L194.5 60.4 L196.5 61.0 L198.5 61.7 L200.5 62.3 L202.5 63.0 L204.5 63.8 L206.5 64.5 L208.5 65.3 L210.5 66.1 L212.5 67.0 L214.5 67.9 L216.5 68.8 L218.5 69.7 L220.5 70.7 L222.5 71.7 L224.5 72.7 L226.5 73.8 L228.5 74.9 L230.5 76.0 L232.5 77.2 L234.5 78.5 L236.5 79.8 L238.5 81.1 L240.5 82.5 L242.5 83.9 L244.5 85.4 L246.5 86.9 L248.5 88.5 L250.5 90.1 L252.5 91.8 L254.5 93.5 L256.5 95.2 L258.5 96.9 L260.5 98.7 L262.5 100.5 L264.5 102.3" stroke="#3be9d6"/>
<path d="M56.5 42.7 L58.5 42.8 L60.5 43.0 L62.5 43.2 L64.5 43.3 L66.5 43.5 L68.5 43.6 L70.5 43.8 L72.5 44.0 L74.5 44.1 L76.5 44.3 L78.5 44.5 L80.5 44.6 L82.5 44.8 L84.5 45.0 L86.5 45.1 L88.5 45.3 L90.5 45.5 L92.5 45.7 L94.5 45.9 L96.5 46.0 L98.5 46.2 L100.5 46.4 L102.5 46.6 L104.5 46.8 L106.5 47.0 L108.5 47.2 L110.5 47.4 L112.5 47.6 L114.5 47.8 L116.5 48.0 L118.5 48.2 L120.5 48.4 L122.5 48.6 L124.5 48.8 L126.5 49.0 L128.5 49.3 L130.5 49.5 L132.5 49.7 L134.5 49.9 L136.5 50.2 L138.5 50.4 L140.5 50.6 L142.5 50.9 L144.5 51.1 L146.5 51.3 L148.5 51.6 L150.5 51.9 L152.5 52.1 L154.5 52.4 L156.5 52.7 L158.5 53.0 L160.5 53.3 L162.5 53.6 L164.5 53.9 L166.5 54.3 L168.5 54.6 L170.5 55.0 L172.5 55.4 L174.5 55.8 L176.5 56.1 L178.5 56.5 L180.5 57.0 L182.5 57.4 L184.5 57.9 L186.5 58.3 L188.5 58.8 L190.5 59.4 L192.5 59.9 L194.5 60.5 L196.5 61.1 L198.5 61.7 L200.5 62.3 L202.5 63.0 L204.5 63.7 L206.5 64.4 L208.5 65.2 L210.5 66.0 L212.5 66.8 L214.5 67.6 L216.5 68.4 L218.5 69.3 L220.5 70.2 L222.5 71.1 L224.5 72.0 L226.5 73.0 L228.5 74.0 L230.5 75.0 L232.5 76.1 L234.5 77.2 L236.5 78.3 L238.5 79.5 L240.5 80.8 L242.5 82.1 L244.5 83.4 L246.5 84.8 L248.5 86.2 L250.5 87.7 L252.5 89.2 L254.5 90.8 L256.5 92.4 L258.5 94.1 L260.5 95.8 L262.5 97.5 L264.5 99.2" stroke="#44eed2"/>
<path d="M56.5 42.8 L58.5 43.0 L60.5 43.1 L62.5 43.3 L64.5 43.4 L66.5 43.6 L68.5 43.7 L70.5 43.9 L72.5 44.1 L74.5 44.2 L76.5 44.4 L78.5 44.6 L80.5 44.7 L82.5 44.9 L84.5 45.1 L86.5 45.3 L88.5 45.4 L90.5 45.6 L92.5 45.8 L94.5 46.0 L96.5 46.2 L98.5 46.3 L100.5 46.5 L102.5 46.7 L104.5 46.9 L106.5 47.1 L108.5 47.3 L110.5 47.5 L112.5 47.7 L114.5 47.9 L116.5 48.1 L118.5 48.3 L120.5 48.5 L122.5 48.7 L124.5 48.9 L126.5 49.2 L128.5 49.4 L130.5 49.6 L132.5 49.8 L134.5 50.0 L136.5 50.3 L138.5 50.5 L140.5 50.7 L142.5 51.0 L144.5 51.2 L146.5 51.4 L148.5 51.7 L150.5 52.0 L152.5 52.2 L154.5 52.5 L156.5 52.8 L158.5 53.1 L160.5 53.4 L162.5 53.7 L164.5 54.0 L166.5 54.4 L168.5 54.7 L170.5 55.1 L172.5 55.5 L174.5 55.8 L176.5 56.2 L178.5 56.6 L180.5 57.1 L182.5 57.5 L184.5 58.0 L186.5 58.4 L188.5 58.9 L190.5 59.4 L192.5 60.0 L194.5 60.5 L196.5 61.1 L198.5 61.7 L200.5 62.3 L202.5 63.0 L204.5 63.7 L206.5 64.4 L208.5 65.1 L210.5 65.9 L212.5 66.6 L214.5 67.4 L216.5 68.2 L218.5 69.0 L220.5 69.8 L222.5 70.7 L224.5 71.6 L226.5 72.4 L228.5 73.3 L230.5 74.3 L232.5 75.2 L234.5 76.2 L236.5 77.3 L238.5 78.3 L240.5 79.4 L242.5 80.6 L244.5 81.8 L246.5 83.0 L248.5 84.3 L250.5 85.6 L252.5 87.0 L254.5 88.5 L256.5 90.0 L258.5 91.5 L260.5 93.1 L262.5 94.7 L264.5 96.3" stroke="#4df3ce"/>
<path d="M56.5 42.9 L58.5 43.0 L60.5 43.2 L62.5 43.3 L64.5 43.5 L66.5 43.6 L68.5 43.8 L70.5 44.0 L72.5 44.1 L74.5 44.3 L76.5 44.5 L78.5 44.6 L80.5 44.8 L82.5 45.0 L84.5 45.1 L86.5 45.3 L88.5 45.5 L90.5 45.7 L92.5 45.9 L94.5 46.0 L96.5 46.2 L98.5 46.4 L100.5 46.6 L102.5 46.8 L104.5 47.0 L106.5 47.2 L108.5 47.4 L110.5 47.6 L112.5 47.8 L114.5 48.0 L116.5 48.2 L118.5 48.4 L120.5 48.6 L122.5 48.8 L124.5 49.0 L126.5 49.2 L128.5 49.4 L130.5 49.7 L132.5 49.9 L134.5 50.1 L136.5 50.3 L138.5 50.6 L140.5 50.8 L142.5 51.0 L144.5 51.3 L146.5 51.5 L148.5 51.8 L150.5 52.0 L152.5 52.3 L154.5 52.6 L156.5 52.9 L158.5 53.2 L160.5 53.5 L162.5 53.8 L164.5 54.1 L166.5 54.4 L168.5 54.8 L170.5 55.2 L172.5 55.5 L174.5 55.9 L176.5 56.3 L178.5 56.7 L180.5 57.1 L182.5 57.6 L184.5 58.0 L186.5 58.5 L188.5 59.0 L190.5 59.5 L192.5 60.0 L194.5 60.5 L196.5 61.1 L198.5 61.7 L200.5 62.3 L202.5 63.0 L204.5 63.7 L206.5 64.4 L208.5 65.1 L210.5 65.8 L212.5 66.5 L214.5 67.3 L216.5 68.0 L218.5 68.8 L220.5 69.6 L222.5 70.4 L224.5 71.2 L226.5 72.1 L228.5 72.9 L230.5 73.8 L232.5 74.6 L234.5 75.5 L236.5 76.5 L238.5 77.4 L240.5 78.4 L242.5 79.5 L244.5 80.5 L246.5 81.6 L248.5 82.8 L250.5 84.0 L252.5 85.2 L254.5 86.5 L256.5 87.9 L258.5 89.2 L260.5 90.7 L262.5 92.2 L264.5 93.7" stroke="#55f6ca"/>
<path d="M56.5 42.9 L58.5 43.1 L60.5 43.2 L62.5 43.4 L64.5 43.5 L66.5 43.7 L68.5 43.8 L70.5 44.0 L72.5 44.2 L74.5 44.3 L76.5 44.5 L78.5 44.7 L80.5 44.8 L82.5 45.0 L84.5 45.2 L86.5 45.4 L88.5 45.5 L90.5 45.7 L92.5 45.9 L94.5 46.1 L96.5 46.3 L98.5 46.5 L100.5 46.6 L102.5 46.8 L104.5 47.0 L106.5 47.2 L108.5 47.4 L110.5 47.6 L112.5 47.8 L114.5 48.0 L116.5 48.2 L118.5 48.4 L120.5 48.6 L122.5 48.8 L124.5 49.1 L126.5 49.3 L128.5 49.5 L130.5 49.7 L132.5 49.9 L134.5 50.2 L136.5 50.4 L138.5 50.6 L140.5 50.8 L142.5 51.1 L144.5 51.3 L146.5 51.6 L148.5 51.8 L150.5 52.1 L152.5 52.3 L154.5 52.6 L156.5 52.9 L158.5 53.2 L160.5 53.5 L162.5 53.8 L164.5 54.2 L166.5 54.5 L168.5 54.8 L170.5 55.2 L172.5 55.6 L174.5 55.9 L176.5 56.3 L178.5 56.7 L180.5 57.2 L182.5 57.6 L184.5 58.0 L186.5 58.5 L188.5 59.0 L190.5 59.5 L192.5 60.0 L194.5 60.6 L196.5 61.1 L198.5 61.7 L200.5 62.4 L202.5 63.0 L204.5 63.6 L206.5 64.3 L208.5 65.0 L210.5 65.8 L212.5 66.5 L214.5 67.2 L216.5 67.9 L218.5 68.7 L220.5 69.5 L222.5 70.2 L224.5 71.0 L226.5 71.8 L228.5 72.6 L230.5 73.4 L232.5 74.2 L234.5 75.1 L236.5 75.9 L238.5 76.8 L240.5 77.7 L242.5 78.7 L244.5 79.6 L246.5 80.6 L248.5 81.6 L250.5 82.7 L252.5 83.8 L254.5 85.0 L256.5 86.2 L258.5 87.4 L260.5 88.7 L262.5 90.0 L264.5 91.4" stroke="#5ef9c6"/>
<path d="M56.5 43.0 L58.5 43.1 L60.5 43.3 L62.5 43.4 L64.5 43.6 L66.5 43.7 L68.5 43.9 L70.5 44.0 L72.5 44.2 L74.5 44.4 L76.5 44.5 L78.5 44.7 L80.5 44.9 L82.5 45.0 L84.5 45.2 L86.5 45.4 L88.5 45.6 L90.5 45.8 L92.5 45.9 L94.5 46.1 L96.5 46.3 L98.5 46.5 L100.5 46.7 L102.5 46.9 L104.5 47.1 L106.5 47.2 L108.5 47.4 L110.5 47.6 L112.5 47.8 L114.5 48.0 L116.5 48.2 L118.5 48.4 L120.5 48.7 L122.5 48.9 L124.5 49.1 L126.5 49.3 L128.5 49.5 L130.5 49.7 L132.5 50.0 L134.5 50.2 L136.5 50.4 L138.5 50.6 L140.5 50.9 L142.5 51.1 L144.5 51.3 L146.5 51.6 L148.5 51.8 L150.5 52.1 L152.5 52.4 L154.5 52.6 L156.5 52.9 L158.5 53.2 L160.5 53.5 L162.5 53.8 L164.5 54.2 L166.5 54.5 L168.5 54.9 L170.5 55.2 L172.5 55.6 L174.5 56.0 L176.5 56.4 L178.5 56.8 L180.5 57.2 L182.5 57.6 L184.5 58.1 L186.5 58.5 L188.5 59.0 L190.5 59.5 L192.5 60.0 L194.5 60.6 L196.5 61.1 L198.5 61.7 L200.5 62.4 L202.5 63.0 L204.5 63.6 L206.5 64.3 L208.5 65.0 L210.5 65.7 L212.5 66.4 L214.5 67.2 L216.5 67.9 L218.5 68.6 L220.5 69.4 L222.5 70.1 L224.5 70.9 L226.5 71.7 L228.5 72.4 L230.5 73.2 L232.5 74.0 L234.5 74.8 L236.5 75.6 L238.5 76.4 L240.5 77.2 L242.5 78.1 L244.5 79.0 L246.5 79.9 L248.5 80.8 L250.5 81.8 L252.5 82.8 L254.5 83.8 L256.5 84.9 L258.5 86.0 L260.5 87.1 L262.5 88.3 L264.5 89.6" stroke="#66fcc2"/>
<path d="M56.5 43.0 L58.5 43.1 L60.5 43.3 L62.5 43.4 L64.5 43.6 L66.5 43.7 L68.5 43.9 L70.5 44.1 L72.5 44.2 L74.5 44.4 L76.5 44.6 L78.5 44.7 L80.5 44.9 L82.5 45.1 L84.5 45.2 L86.5 45.4 L88.5 45.6 L90.5 45.8 L92.5 45.9 L94.5 46.1 L96.5 46.3 L98.5 46.5 L100.5 46.7 L102.5 46.9 L104.5 47.1 L106.5 47.3 L108.5 47.5 L110.5 47.7 L112.5 47.9 L114.5 48.1 L116.5 48.3 L118.5 48.5 L120.5 48.7 L122.5 48.9 L124.5 49.1 L126.5 49.3 L128.5 49.5 L130.5 49.8 L132.5 50.0 L134.5 50.2 L136.5 50.4 L138.5 50.7 L140.5 50.9 L142.5 51.1 L144.5 51.4 L146.5 51.6 L148.5 51.9 L150.5 52.1 L152.5 52.4 L154.5 52.7 L156.5 52.9 L158.5 53.2 L160.5 53.5 L162.5 53.9 L164.5 54.2 L166.5 54.5 L168.5 54.9 L170.5 55.2 L172.5 55.6 L174.5 56.0 L176.5 56.4 L178.5 56.8 L180.5 57.2 L182.5 57.6 L184.5 58.1 L186.5 58.5 L188.5 59.0 L190.5 59.5 L192.5 60.0 L194.5 60.6 L196.5 61.2 L198.5 61.7 L200.5 62.4 L202.5 63.0 L204.5 63.6 L206.5 64.3 L208.5 65.0 L210.5 65.7 L212.5 66.4 L214.5 67.1 L216.5 67.8 L218.5 68.6 L220.5 69.3 L222.5 70.1 L224.5 70.8 L226.5 71.6 L228.5 72.3 L230.5 73.0 L232.5 73.8 L234.5 74.6 L236.5 75.3 L238.5 76.1 L240.5 76.9 L242.5 77.7 L244.5 78.5 L246.5 79.4 L248.5 80.2 L250.5 81.1 L252.5 82.0 L254.5 83.0 L256.5 83.9 L258.5 84.9 L260.5 85.9 L262.5 87.0 L264.5 88.1" stroke="#6efebe"/>
<path d="M56.5 43.0 L58.5 43.1 L60.5 43.3 L62.5 43.4 L64.5 43.6 L66.5 43.7 L68.5 43.9 L70.5 44.1 L72.5 44.2 L74.5 44.4 L76.5 44.6 L78.5 44.7 L80.5 44.9 L82.5 45.1 L84.5 45.2 L86.5 45.4 L88.5 45.6 L90.5 45.8 L92.5 46.0 L94.5 46.1 L96.5 46.3 L98.5 46.5 L100.5 46.7 L102.5 46.9 L104.5 47.1 L106.5 47.3 L108.5 47.5 L110.5 47.7 L112.5 47.9 L114.5 48.1 L116.5 48.3 L118.5 48.5 L120.5 48.7 L122.5 48.9 L124.5 49.1 L126.5 49.3 L128.5 49.5 L130.5 49.8 L132.5 50.0 L134.5 50.2 L136.5 50.4 L138.5 50.7 L140.5 50.9 L142.5 51.1 L144.5 51.4 L146.5 51.6 L148.5 51.9 L150.5 52.1 L152.5 52.4 L154.5 52.7 L156.5 53.0 L158.5 53.3 L160.5 53.6 L162.5 53.9 L164.5 54.2 L166.5 54.5 L168.5 54.9 L170.5 55.3 L172.5 55.6 L174.5 56.0 L176.5 56.4 L178.5 56.8 L180.5 57.2 L182.5 57.6 L184.5 58.1 L186.5 58.5 L188.5 59.0 L190.5 59.5 L192.5 60.0 L194.5 60.6 L196.5 61.2 L198.5 61.7 L200.5 62.4 L202.5 63.0 L204.5 63.6 L206.5 64.3 L208.5 65.0 L210.5 65.7 L212.5 66.4 L214.5 67.1 L216.5 67.8 L218.5 68.5 L220.5 69.3 L222.5 70.0 L224.5 70.7 L226.5 71.5 L228.5 72.2 L230.5 73.0 L232.5 73.7 L234.5 74.4 L236.5 75.2 L238.5 75.9 L240.5 76.7 L242.5 77.5 L244.5 78.3 L246.5 79.1 L248.5 79.9 L250.5 80.7 L252.5 81.5 L254.5 82.4 L256.5 83.3 L258.5 84.2 L260.5 85.1 L262.5 86.0 L264.5 87.0" stroke="#77ffb9"/>
<path d="M56.5 43.0 L58.5 43.1 L60.5 43.3 L62.5 43.4 L64.5 43.6 L66.5 43.8 L68.5 43.9 L70.5 44.1 L72.5 44.2 L74.5 44.4 L76.5 44.6 L78.5 44.7 L80.5 44.9 L82.5 45.1 L84.5 45.3 L86.5 45.4 L88.5 45.6 L90.5 45.8 L92.5 46.0 L94.5 46.2 L96.5 46.3 L98.5 46.5 L100.5 46.7 L102.5 46.9 L104.5 47.1 L106.5 47.3 L108.5 47.5 L110.5 47.7 L112.5 47.9 L114.5 48.1 L116.5 48.3 L118.5 48.5 L120.5 48.7 L122.5 48.9 L124.5 49.1 L126.5 49.3 L128.5 49.6 L130.5 49.8 L132.5 50.0 L134.5 50.2 L136.5 50.4 L138.5 50.7 L140.5 50.9 L142.5 51.1 L144.5 51.4 L146.5 51.6 L148.5 51.9 L150.5 52.1 L152.5 52.4 L154.5 52.7 L156.5 53.0 L158.5 53.3 L160.5 53.6 L162.5 53.9 L164.5 54.2 L166.5 54.5 L168.5 54.9 L170.5 55.3 L172.5 55.6 L174.5 56.0 L176.5 56.4 L178.5 56.8 L180.5 57.2 L182.5 57.6 L184.5 58.1 L186.5 58.5 L188.5 59.0 L190.5 59.5 L192.5 60.0 L194.5 60.6 L196.5 61.2 L198.5 61.7 L200.5 62.4 L202.5 63.0 L204.5 63.6 L206.5 64.3 L208.5 65.0 L210.5 65.7 L212.5 66.4 L214.5 67.1 L216.5 67.8 L218.5 68.5 L220.5 69.3 L222.5 70.0 L224.5 70.7 L226.5 71.4 L228.5 72.2 L230.5 72.9 L232.5 73.6 L234.5 74.4 L236.5 75.1 L238.5 75.8 L240.5 76.6 L242.5 77.3 L244.5 78.1 L246.5 78.8 L248.5 79.6 L250.5 80.4 L252.5 81.2 L254.5 82.0 L256.5 82.8 L258.5 83.6 L260.5 84.5 L262.5 85.4 L264.5 86.3" stroke="#80ffb4"/>
<path d="M56.5 43.0 L58.5 43.1 L60.5 43.3 L62.5 43.4 L64.5 43.6 L66.5 43.8 L68.5 43.9 L70.5 44.1 L72.5 44.2 L74.5 44.4 L76.5 44.6 L78.5 44.7 L80.5 44.9 L82.5 45.1 L84.5 45.3 L86.5 45.4 L88.5 45.6 L90.5 45.8 L92.5 46.0 L94.5 46.2 L96.5 46.3 L98.5 46.5 L100.5 46.7 L102.5 46.9 L104.5 47.1 L106.5 47.3 L108.5 47.5 L110.5 47.7 L112.5 47.9 L114.5 48.1 L116.5 48.3 L118.5 48.5 L120.5 48.7 L122.5 48.9 L124.5 49.1 L126.5 49.3 L128.5 49.6 L130.5 49.8 L132.5 50.0 L134.5 50.2 L136.5 50.4 L138.5 50.7 L140.5 50.9 L142.5 51.1 L144.5 51.4 L146.5 51.6 L148.5 51.9 L150.5 52.1 L152.5 52.4 L154.5 52.7 L156.5 53.0 L158.5 53.3 L160.5 53.6 L162.5 53.9 L164.5 54.2 L166.5 54.6 L168.5 54.9 L170.5 55.3 L172.5 55.6 L174.5 56.0 L176.5 56.4 L178.5 56.8 L180.5 57.2 L182.5 57.6 L184.5 58.1 L186.5 58.5 L188.5 59.0 L190.5 59.5 L192.5 60.0 L194.5 60.6 L196.5 61.2 L198.5 61.7 L200.5 62.4 L202.5 63.0 L204.5 63.6 L206.5 64.3 L208.5 65.0 L210.5 65.7 L212.5 66.4 L214.5 67.1 L216.5 67.8 L218.5 68.5 L220.5 69.2 L222.5 70.0 L224.5 70.7 L226.5 71.4 L228.5 72.1 L230.5 72.9 L232.5 73.6 L234.5 74.3 L236.5 75.0 L238.5 75.7 L240.5 76.5 L242.5 77.2 L244.5 78.0 L246.5 78.7 L248.5 79.4 L250.5 80.2 L252.5 81.0 L254.5 81.7 L256.5 82.5 L258.5 83.3 L260.5 84.1 L262.5 84.9 L264.5 85.8" stroke="#88ffb0"/>
<path d="M56.5 43.0 L58.5 43.1 L60.5 43.3 L62.5 43.5 L64.5 43.6 L66.5 43.8 L68.5 43.9 L70.5 44.1 L72.5 44.2 L74.5 44.4 L76.5 44.6 L78.5 44.7 L80.5 44.9 L82.5 45.1 L84.5 45.3 L86.5 45.4 L88.5 45.6 L90.5 45.8 L92.5 46.0 L94.5 46.2 L96.5 46.3 L98.5 46.5 L100.5 46.7 L102.5 46.9 L104.5 47.1 L106.5 47.3 L108.5 47.5 L110.5 47.7 L112.5 47.9 L114.5 48.1 L116.5 48.3 L118.5 48.5 L120.5 48.7 L122.5 48.9 L124.5 49.1 L126.5 49.3 L128.5 49.6 L130.5 49.8 L132.5 50.0 L134.5 50.2 L136.5 50.5 L138.5 50.7 L140.5 50.9 L142.5 51.1 L144.5 51.4 L146.5 51.6 L148.5 51.9 L150.5 52.1 L152.5 52.4 L154.5 52.7 L156.5 53.0 L158.5 53.3 L160.5 53.6 L162.5 53.9 L164.5 54.2 L166.5 54.6 L168.5 54.9 L170.5 55.3 L172.5 55.6 L174.5 56.0 L176.5 56.4 L178.5 56.8 L180.5 57.2 L182.5 57.6 L184.5 58.1 L186.5 58.5 L188.5 59.0 L190.5 59.5 L192.5 60.0 L194.5 60.6 L196.5 61.2 L198.5 61.8 L200.5 62.4 L202.5 63.0 L204.5 63.6 L206.5 64.3 L208.5 65.0 L210.5 65.7 L212.5 66.4 L214.5 67.1 L216.5 67.8 L218.5 68.5 L220.5 69.2 L222.5 69.9 L224.5 70.7 L226.5 71.4 L228.5 72.1 L230.5 72.8 L232.5 73.5 L234.5 74.2 L236.5 75.0 L238.5 75.7 L240.5 76.4 L242.5 77.1 L244.5 77.8 L246.5 78.5 L248.5 79.3 L250.5 80.0 L252.5 80.7 L254.5 81.5 L256.5 82.2 L258.5 82.9 L260.5 83.7 L262.5 84.4 L264.5 85.2" stroke="#99fca6"/>
<path d="M56.5 43.0 L58.5 43.1 L60.5 43.3 L62.5 43.5 L64.5 43.6 L66.5 43.8 L68.5 43.9 L70.5 44.1 L72.5 44.3 L74.5 44.4 L76.5 44.6 L78.5 44.8 L80.5 44.9 L82.5 45.1 L84.5 45.3 L86.5 45.4 L88.5 45.6 L90.5 45.8 L92.5 46.0 L94.5 46.2 L96.5 46.3 L98.5 46.5 L100.5 46.7 L102.5 46.9 L104.5 47.1 L106.5 47.3 L108.5 47.5 L110.5 47.7 L112.5 47.9 L114.5 48.1 L116.5 48.3 L118.5 48.5 L120.5 48.7 L122.5 48.9 L124.5 49.1 L126.5 49.3 L128.5 49.6 L130.5 49.8 L132.5 50.0 L134.5 50.2 L136.5 50.5 L138.5 50.7 L140.5 50.9 L142.5 51.2 L144.5 51.4 L146.5 51.6 L148.5 51.9 L150.5 52.1 L152.5 52.4 L154.5 52.7 L156.5 53.0 L158.5 53.3 L160.5 53.6 L162.5 53.9 L164.5 54.2 L166.5 54.6 L168.5 54.9 L170.5 55.3 L172.5 55.6 L174.5 56.0 L176.5 56.4 L178.5 56.8 L180.5 57.2 L182.5 57.6 L184.5 58.1 L186.5 58.6 L188.5 59.0 L190.5 59.5 L192.5 60.0 L194.5 60.6 L196.5 61.2 L198.5 61.8 L200.5 62.4 L202.5 63.0 L204.5 63.6 L206.5 64.3 L208.5 65.0 L210.5 65.7 L212.5 66.4 L214.5 67.1 L216.5 67.8 L218.5 68.5 L220.5 69.2 L222.5 69.9 L224.5 70.7 L226.5 71.4 L228.5 72.1 L230.5 72.8 L232.5 73.5 L234.5 74.2 L236.5 74.9 L238.5 75.6 L240.5 76.3 L242.5 77.0 L244.5 77.7 L246.5 78.5 L248.5 79.2 L250.5 79.9 L252.5 80.6 L254.5 81.3 L256.5 82.0 L258.5 82.7 L260.5 83.4 L262.5 84.1 L264.5 84.8" stroke="#ff0000" stroke-width="1.3"/>
<path d="M56.5 64.8 L58.5 65.6 L60.5 66.4 L62.5 67.2 L64.5 68.0 L66.5 68.7 L68.5 69.5 L70.5 70.3 L72.5 71.1 L74.5 71.9 L76.5 72.7 L78.5 73.5 L80.5 74.2 L82.5 75.0 L84.5 75.8 L86.5 76.6 L88.5 77.4 L90.5 78.1 L92.5 78.9 L94.5 79.7 L96.5 80.5 L98.5 81.3 L100.5 82.0 L102.5 82.8 L104.5 83.6 L106.5 84.4 L108.5 85.1 L110.5 85.9 L112.5 86.7 L114.5 87.5 L116.5 88.2 L118.5 89.0 L120.5 89.8 L122.5 90.5 L124.5 91.3 L126.5 92.1 L128.5 92.8 L130.5 93.6 L132.5 94.3 L134.5 95.1 L136.5 95.8 L138.5 96.5 L140.5 97.3 L142.5 98.0 L144.5 98.8 L146.5 99.5 L148.5 100.3 L150.5 101.1 L152.5 101.9 L154.5 102.7 L156.5 103.6 L158.5 104.4 L160.5 105.3 L162.5 106.2 L164.5 107.0 L166.5 107.9 L168.5 108.8 L170.5 109.7 L172.5 110.6 L174.5 111.5 L176.5 112.4 L178.5 113.3 L180.5 114.3 L182.5 115.2 L184.5 116.2 L186.5 117.1 L188.5 118.2 L190.5 119.2 L192.5 120.3 L194.5 121.4 L196.5 122.5 L198.5 123.6 L200.5 124.8 L202.5 125.9 L204.5 127.0 L206.5 128.2 L208.5 129.3 L210.5 130.4 L212.5 131.5 L214.5 132.6 L216.5 133.8 L218.5 134.9 L220.5 136.1 L222.5 137.2 L224.5 138.5 L226.5 139.7 L228.5 141.0 L230.5 142.4 L232.5 143.8 L234.5 145.2 L236.5 146.6 L238.5 148.1 L240.5 149.5 L242.5 151.0 L244.5 152.4 L246.5 153.9 L248.5 155.3 L250.5 156.7 L252.5 158.1 L254.5 159.5 L256.5 160.9 L258.5 162.3 L260.5 163.8 L262.5 165.2 L264.5 166.6" stroke="#383838" stroke-width="1.95"/>
</g>
<path d="M69.79 200.60v-3.5 M69.79 11.60v3.5 M76.19 200.60v-3.5 M76.19 11.60v3.5 M80.46 200.60v-3.5 M80.46 11.60v3.5 M83.65 200.60v-3.5 M83.65 11.60v3.5 M86.21 200.60v-7.0 M86.21 11.60v7.0 M99.50 200.60v-3.5 M99.50 11.60v3.5 M105.91 200.60v-3.5 M105.91 11.60v3.5 M110.17 200.60v-3.5 M110.17 11.60v3.5 M113.37 200.60v-3.5 M113.37 11.60v3.5 M115.93 200.60v-7.0 M115.93 11.60v7.0 M129.22 200.60v-3.5 M129.22 11.60v3.5 M135.62 200.60v-3.5 M135.62 11.60v3.5 M139.88 200.60v-3.5 M139.88 11.60v3.5 M143.08 200.60v-3.5 M143.08 11.60v3.5 M145.64 200.60v-7.0 M145.64 11.60v7.0 M158.93 200.60v-3.5 M158.93 11.60v3.5 M165.34 200.60v-3.5 M165.34 11.60v3.5 M169.60 200.60v-3.5 M169.60 11.60v3.5 M172.80 200.60v-3.5 M172.80 11.60v3.5 M175.36 200.60v-7.0 M175.36 11.60v7.0 M188.64 200.60v-3.5 M188.64 11.60v3.5 M195.05 200.60v-3.5 M195.05 11.60v3.5 M199.31 200.60v-3.5 M199.31 11.60v3.5 M202.51 200.60v-3.5 M202.51 11.60v3.5 M205.07 200.60v-7.0 M205.07 11.60v7.0 M218.36 200.60v-3.5 M218.36 11.60v3.5 M224.76 200.60v-3.5 M224.76 11.60v3.5 M229.03 200.60v-3.5 M229.03 11.60v3.5 M232.22 200.60v-3.5 M232.22 11.60v3.5 M234.79 200.60v-7.0 M234.79 11.60v7.0 M248.07 200.60v-3.5 M248.07 11.60v3.5 M254.48 200.60v-3.5 M254.48 11.60v3.5 M258.74 200.60v-3.5 M258.74 11.60v3.5 M261.94 200.60v-3.5 M261.94 11.60v3.5 M56.50 18.21h3.5 M264.50 18.21h-3.5 M56.50 15.36h3.5 M264.50 15.36h-3.5 M56.50 13.70h3.5 M264.50 13.70h-3.5 M56.50 12.52h3.5 M264.50 12.52h-3.5 M56.50 58.85h7.0 M264.50 58.85h-7.0 M56.50 65.46h3.5 M264.50 65.46h-3.5 M56.50 62.61h3.5 M264.50 62.61h-3.5 M56.50 60.95h3.5 M264.50 60.95h-3.5 M56.50 59.77h3.5 M264.50 59.77h-3.5 M56.50 106.10h7.0 M264.50 106.10h-7.0 M56.50 112.71h3.5 M264.50 112.71h-3.5 M56.50 109.86h3.5 M264.50 109.86h-3.5 M56.50 108.20h3.5 M264.50 108.20h-3.5 M56.50 107.02h3.5 M264.50 107.02h-3.5 M56.50 153.35h7.0 M264.50 153.35h-7.0 M56.50 159.96h3.5 M264.50 159.96h-3.5 M56.50 157.11h3.5 M264.50 157.11h-3.5 M56.50 155.45h3.5 M264.50 155.45h-3.5 M56.50 154.27h3.5 M264.50 154.27h-3.5" stroke="#000" stroke-width="0.9" fill="none"/>
<rect x="56.5" y="11.6" width="208.0" height="189.0" fill="none" stroke="#000" stroke-width="1.1"/>
<g filter="url(#nf)" fill="#000" stroke="#000" stroke-width="0.18" style="white-space:pre">
<path transform="translate(45.94 216.60) scale(0.00566 -0.00566)" d="M585 0V1040H290V1170Q480 1178 560 1270Q610 1340 625 1456H760V0Z" stroke-width="32"/>
<text x="52.39" y="216.60" font-size="11.6">0</text>
<text x="59.14" y="210.90" font-size="8.9">-4</text>
<path transform="translate(75.66 216.60) scale(0.00566 -0.00566)" d="M585 0V1040H290V1170Q480 1178 560 1270Q610 1340 625 1456H760V0Z" stroke-width="32"/>
<text x="82.11" y="216.60" font-size="11.6">0</text>
<text x="88.86" y="210.90" font-size="8.9">-3</text>
<path transform="translate(105.37 216.60) scale(0.00566 -0.00566)" d="M585 0V1040H290V1170Q480 1178 560 1270Q610 1340 625 1456H760V0Z" stroke-width="32"/>
<text x="111.82" y="216.60" font-size="11.6">0</text>
<text x="118.57" y="210.90" font-size="8.9">-2</text>
<path transform="translate(135.08 216.60) scale(0.00566 -0.00566)" d="M585 0V1040H290V1170Q480 1178 560 1270Q610 1340 625 1456H760V0Z" stroke-width="32"/>
<text x="141.54" y="216.60" font-size="11.6">0</text>
<text x="148.29" y="210.90" font-size="8.9">-</text>
<path transform="translate(151.25 210.90) scale(0.00435 -0.00435)" d="M585 0V1040H290V1170Q480 1178 560 1270Q610 1340 625 1456H760V0Z" stroke-width="41"/>
<path transform="translate(166.28 216.60) scale(0.00566 -0.00566)" d="M585 0V1040H290V1170Q480 1178 560 1270Q610 1340 625 1456H760V0Z" stroke-width="32"/>
<text x="172.73" y="216.60" font-size="11.6">0</text>
<text x="179.48" y="210.90" font-size="8.9">0</text>
<path transform="translate(196.00 216.60) scale(0.00566 -0.00566)" d="M585 0V1040H290V1170Q480 1178 560 1270Q610 1340 625 1456H760V0Z" stroke-width="32"/>
<text x="202.45" y="216.60" font-size="11.6">0</text>
<path transform="translate(209.20 210.90) scale(0.00435 -0.00435)" d="M585 0V1040H290V1170Q480 1178 560 1270Q610 1340 625 1456H760V0Z" stroke-width="41"/>
<path transform="translate(225.71 216.60) scale(0.00566 -0.00566)" d="M585 0V1040H290V1170Q480 1178 560 1270Q610 1340 625 1456H760V0Z" stroke-width="32"/>
<text x="232.16" y="216.60" font-size="11.6">0</text>
<text x="238.91" y="210.90" font-size="8.9">2</text>
<path transform="translate(255.42 216.60) scale(0.00566 -0.00566)" d="M585 0V1040H290V1170Q480 1178 560 1270Q610 1340 625 1456H760V0Z" stroke-width="32"/>
<text x="261.88" y="216.60" font-size="11.6">0</text>
<text x="268.63" y="210.90" font-size="8.9">3</text>
<path transform="translate(25.90 16.80) scale(0.00566 -0.00566)" d="M585 0V1040H290V1170Q480 1178 560 1270Q610 1340 625 1456H760V0Z" stroke-width="32"/>
<text x="32.35" y="16.80" font-size="11.6">0</text>
<path transform="translate(39.10 11.10) scale(0.00435 -0.00435)" d="M585 0V1040H290V1170Q480 1178 560 1270Q610 1340 625 1456H760V0Z" stroke-width="41"/>
<text x="44.05" y="11.10" font-size="8.9">0</text>
<path transform="translate(30.85 64.05) scale(0.00566 -0.00566)" d="M585 0V1040H290V1170Q480 1178 560 1270Q610 1340 625 1456H760V0Z" stroke-width="32"/>
<text x="37.30" y="64.05" font-size="11.6">0</text>
<text x="44.05" y="58.35" font-size="8.9">5</text>
<path transform="translate(30.85 111.30) scale(0.00566 -0.00566)" d="M585 0V1040H290V1170Q480 1178 560 1270Q610 1340 625 1456H760V0Z" stroke-width="32"/>
<text x="37.30" y="111.30" font-size="11.6">0</text>
<text x="44.05" y="105.60" font-size="8.9">0</text>
<path transform="translate(27.88 158.55) scale(0.00566 -0.00566)" d="M585 0V1040H290V1170Q480 1178 560 1270Q610 1340 625 1456H760V0Z" stroke-width="32"/>
<text x="34.34" y="158.55" font-size="11.6">0</text>
<text x="41.09" y="152.85" font-size="8.9">-5</text>
<path transform="translate(22.93 205.80) scale(0.00566 -0.00566)" d="M585 0V1040H290V1170Q480 1178 560 1270Q610 1340 625 1456H760V0Z" stroke-width="32"/>
<text x="29.39" y="205.80" font-size="11.6">0</text>
<text x="36.14" y="200.10" font-size="8.9">-</text>
<path transform="translate(39.10 200.10) scale(0.00435 -0.00435)" d="M585 0V1040H290V1170Q480 1178 560 1270Q610 1340 625 1456H760V0Z" stroke-width="41"/>
<text x="44.05" y="200.10" font-size="8.9">0</text>
<text x="137.30" y="231.90" font-size="11.6">T</text>
<text x="144.39" y="235.70" font-size="9.2" font-style="italic">χ</text>
<text x="152.43" y="231.90" font-size="11.6">(MeV)</text>
<g transform="translate(14.0 166.5) rotate(-90)">
<text x="0.00" y="0.00" font-size="11.6">d</text>
<text x="6.45" y="0.00" font-size="11.6" textLength="8.10" lengthAdjust="spacingAndGlyphs">Φ</text>
<text x="14.55" y="3.80" font-size="9.2" font-style="italic">χ</text>
<text x="19.57" y="0.00" font-size="11.6">/dT</text>
<text x="36.33" y="3.80" font-size="9.2" font-style="italic">χ</text>
<text x="44.58" y="0.00" font-size="11.6">(MeV</text>
<text x="72.49" y="-6.00" font-size="8.5">-</text>
<path transform="translate(75.32 -6.00) scale(0.00415 -0.00415)" d="M585 0V1040H290V1170Q480 1178 560 1270Q610 1340 625 1456H760V0Z" stroke-width="43"/>
<text x="80.05" y="0.00" font-size="11.6">cm</text>
<text x="95.71" y="-6.00" font-size="8.5">-2</text>
<text x="103.27" y="0.00" font-size="11.6">s</text>
<text x="109.27" y="-6.00" font-size="8.5">-</text>
<path transform="translate(112.10 -6.00) scale(0.00415 -0.00415)" d="M585 0V1040H290V1170Q480 1178 560 1270Q610 1340 625 1456H760V0Z" stroke-width="43"/>
<text x="116.83" y="0.00" font-size="11.6">)</text>
</g>
<text x="154.14" y="33.70" font-size="11.6">Const |M|</text>
<text x="203.65" y="28.00" font-size="8.9">2</text>
<text x="158.51" y="49.10" font-size="11.6">Const </text>
<text x="192.03" y="49.10" font-size="11.6" font-style="italic">σ</text>
<text x="199.03" y="52.90" font-size="9.2" font-style="italic">χ</text>
<text x="204.05" y="52.70" font-size="8.9">e</text>
<text x="290.00" y="15.60" font-size="11.6">2</text>
<path transform="translate(290.00 47.10) scale(0.00566 -0.00566)" d="M585 0V1040H290V1170Q480 1178 560 1270Q610 1340 625 1456H760V0Z" stroke-width="32"/>
<text x="290.00" y="78.60" font-size="11.6">0</text>
<text x="286.14" y="110.10" font-size="11.6">-</text>
<path transform="translate(290.00 110.10) scale(0.00566 -0.00566)" d="M585 0V1040H290V1170Q480 1178 560 1270Q610 1340 625 1456H760V0Z" stroke-width="32"/>
<text x="286.14" y="141.60" font-size="11.6">-2</text>
<text x="286.14" y="173.10" font-size="11.6">-3</text>
<text x="286.14" y="204.60" font-size="11.6">-4</text>
<g transform="translate(306.3 147.6) rotate(-90)">
<text x="0.00" y="0.00" font-size="11.6">Log</text>
<path transform="translate(19.35 3.60) scale(0.00415 -0.00415)" d="M585 0V1040H290V1170Q480 1178 560 1270Q610 1340 625 1456H760V0Z" stroke-width="43"/>
<text x="24.08" y="3.60" font-size="8.5">0</text>
<text x="32.03" y="0.00" font-size="11.6">(m</text>
<text x="45.56" y="3.60" font-size="8.5">V</text>
<text x="51.23" y="0.00" font-size="11.6">/MeV)</text>
</g>
</g>
<path d="M215.8 29.5H246.8" stroke="#333" stroke-width="1.5"/>
<path d="M215.8 46.9H246.8" stroke="#333" stroke-width="1.6" stroke-dasharray="8.6 4.5"/>
<linearGradient id="cb" x1="0" y1="0" x2="0" y2="1"><stop offset="0.00000" stop-color="#ff0000"/><stop offset="0.01639" stop-color="#ff0000"/><stop offset="0.01639" stop-color="#ff0d07"/><stop offset="0.03279" stop-color="#ff0d07"/><stop offset="0.03279" stop-color="#ff1b0d"/><stop offset="0.04918" stop-color="#ff1b0d"/><stop offset="0.04918" stop-color="#ff2814"/><stop offset="0.06557" stop-color="#ff2814"/><stop offset="0.06557" stop-color="#ff351b"/><stop offset="0.08197" stop-color="#ff351b"/><stop offset="0.08197" stop-color="#ff4221"/><stop offset="0.09836" stop-color="#ff4221"/><stop offset="0.09836" stop-color="#ff4f28"/><stop offset="0.11475" stop-color="#ff4f28"/><stop offset="0.11475" stop-color="#ff5b2e"/><stop offset="0.13115" stop-color="#ff5b2e"/><stop offset="0.13115" stop-color="#ff6835"/><stop offset="0.14754" stop-color="#ff6835"/><stop offset="0.14754" stop-color="#ff743c"/><stop offset="0.16393" stop-color="#ff743c"/><stop offset="0.16393" stop-color="#ff7f42"/><stop offset="0.18033" stop-color="#ff7f42"/><stop offset="0.18033" stop-color="#ff8b48"/><stop offset="0.19672" stop-color="#ff8b48"/><stop offset="0.19672" stop-color="#ff964f"/><stop offset="0.21311" stop-color="#ff964f"/><stop offset="0.21311" stop-color="#ffa055"/><stop offset="0.22951" stop-color="#ffa055"/><stop offset="0.22951" stop-color="#ffab5b"/><stop offset="0.24590" stop-color="#ffab5b"/><stop offset="0.24590" stop-color="#ffb462"/><stop offset="0.26230" stop-color="#ffb462"/><stop offset="0.26230" stop-color="#f6be68"/><stop offset="0.27869" stop-color="#f6be68"/><stop offset="0.27869" stop-color="#eec66e"/><stop offset="0.29508" stop-color="#eec66e"/><stop offset="0.29508" stop-color="#e5ce74"/><stop offset="0.31148" stop-color="#e5ce74"/><stop offset="0.31148" stop-color="#ddd67a"/><stop offset="0.32787" stop-color="#ddd67a"/><stop offset="0.32787" stop-color="#d4dd80"/><stop offset="0.34426" stop-color="#d4dd80"/><stop offset="0.34426" stop-color="#cce385"/><stop offset="0.36066" stop-color="#cce385"/><stop offset="0.36066" stop-color="#c3e98b"/><stop offset="0.37705" stop-color="#c3e98b"/><stop offset="0.37705" stop-color="#bbee90"/><stop offset="0.39344" stop-color="#bbee90"/><stop offset="0.39344" stop-color="#b2f396"/><stop offset="0.40984" stop-color="#b2f396"/><stop offset="0.40984" stop-color="#aaf69b"/><stop offset="0.42623" stop-color="#aaf69b"/><stop offset="0.42623" stop-color="#a2f9a0"/><stop offset="0.44262" stop-color="#a2f9a0"/><stop offset="0.44262" stop-color="#99fca6"/><stop offset="0.45902" stop-color="#99fca6"/><stop offset="0.45902" stop-color="#90feab"/><stop offset="0.47541" stop-color="#90feab"/><stop offset="0.47541" stop-color="#88ffb0"/><stop offset="0.49180" stop-color="#88ffb0"/><stop offset="0.49180" stop-color="#80ffb4"/><stop offset="0.50820" stop-color="#80ffb4"/><stop offset="0.50820" stop-color="#77ffb9"/><stop offset="0.52459" stop-color="#77ffb9"/><stop offset="0.52459" stop-color="#6efebe"/><stop offset="0.54098" stop-color="#6efebe"/><stop offset="0.54098" stop-color="#66fcc2"/><stop offset="0.55738" stop-color="#66fcc2"/><stop offset="0.55738" stop-color="#5ef9c6"/><stop offset="0.57377" stop-color="#5ef9c6"/><stop offset="0.57377" stop-color="#55f6ca"/><stop offset="0.59016" stop-color="#55f6ca"/><stop offset="0.59016" stop-color="#4df3ce"/><stop offset="0.60656" stop-color="#4df3ce"/><stop offset="0.60656" stop-color="#44eed2"/><stop offset="0.62295" stop-color="#44eed2"/><stop offset="0.62295" stop-color="#3be9d6"/><stop offset="0.63934" stop-color="#3be9d6"/><stop offset="0.63934" stop-color="#33e3d9"/><stop offset="0.65574" stop-color="#33e3d9"/><stop offset="0.65574" stop-color="#2adddd"/><stop offset="0.67213" stop-color="#2adddd"/><stop offset="0.67213" stop-color="#22d6e0"/><stop offset="0.68852" stop-color="#22d6e0"/><stop offset="0.68852" stop-color="#19cee3"/><stop offset="0.70492" stop-color="#19cee3"/><stop offset="0.70492" stop-color="#11c6e6"/><stop offset="0.72131" stop-color="#11c6e6"/><stop offset="0.72131" stop-color="#08bee9"/><stop offset="0.73770" stop-color="#08bee9"/><stop offset="0.73770" stop-color="#00b4ec"/><stop offset="0.75410" stop-color="#00b4ec"/><stop offset="0.75410" stop-color="#08abee"/><stop offset="0.77049" stop-color="#08abee"/><stop offset="0.77049" stop-color="#11a0f0"/><stop offset="0.78689" stop-color="#11a0f0"/><stop offset="0.78689" stop-color="#1996f3"/><stop offset="0.80328" stop-color="#1996f3"/><stop offset="0.80328" stop-color="#228bf4"/><stop offset="0.81967" stop-color="#228bf4"/><stop offset="0.81967" stop-color="#2b7ff6"/><stop offset="0.83607" stop-color="#2b7ff6"/><stop offset="0.83607" stop-color="#3374f8"/><stop offset="0.85246" stop-color="#3374f8"/><stop offset="0.85246" stop-color="#3c68f9"/><stop offset="0.86885" stop-color="#3c68f9"/><stop offset="0.86885" stop-color="#445bfb"/><stop offset="0.88525" stop-color="#445bfb"/><stop offset="0.88525" stop-color="#4c4ffc"/><stop offset="0.90164" stop-color="#4c4ffc"/><stop offset="0.90164" stop-color="#5542fd"/><stop offset="0.91803" stop-color="#5542fd"/><stop offset="0.91803" stop-color="#5e35fe"/><stop offset="0.93443" stop-color="#5e35fe"/><stop offset="0.93443" stop-color="#6628fe"/><stop offset="0.95082" stop-color="#6628fe"/><stop offset="0.95082" stop-color="#6e1bff"/><stop offset="0.96721" stop-color="#6e1bff"/><stop offset="0.96721" stop-color="#770dff"/><stop offset="0.98361" stop-color="#770dff"/><stop offset="0.98361" stop-color="#8000ff"/><stop offset="1.00000" stop-color="#8000ff"/></linearGradient>
<rect x="269.5" y="11.60" width="10.5" height="189.00" fill="url(#cb)"/>
<path d="M269.5 43.10H280.0 M269.5 74.60H280.0 M269.5 106.10H280.0 M269.5 137.60H280.0 M269.5 169.10H280.0" stroke="#000" stroke-opacity="0.55" stroke-width="0.7" fill="none"/>
<rect x="269.5" y="11.6" width="10.5" height="189.0" fill="none" stroke="#000" stroke-opacity="0.6" stroke-width="0.6"/>
</svg>
</body></html>
